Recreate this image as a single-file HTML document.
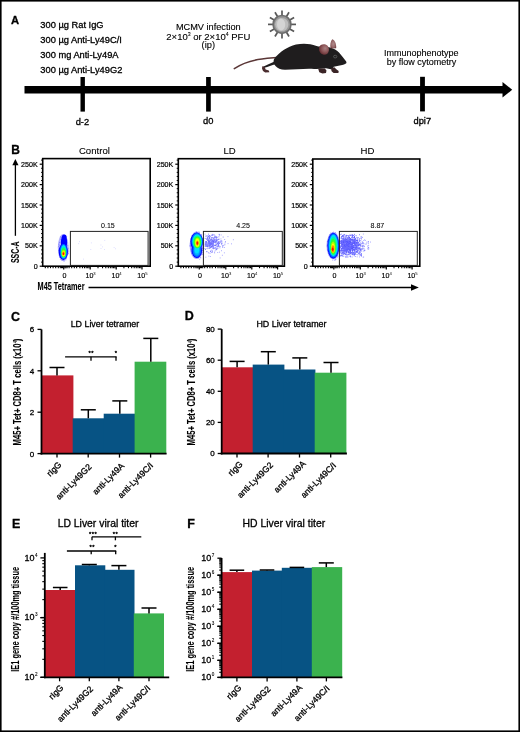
<!DOCTYPE html>
<html><head><meta charset="utf-8"><style>
html,body{margin:0;padding:0;background:#fff;}
svg{display:block;will-change:transform;}
text{font-family:"Liberation Sans", sans-serif;stroke:#000;stroke-width:0.3px;}
</style></head><body>
<svg width="520" height="732" viewBox="0 0 520 732">
<rect width="520" height="732" fill="#fff"/>
<rect x="0" y="0" width="520" height="732" fill="none" stroke="#000" stroke-width="3.2"/>
<text x="11.00" y="24.40" font-size="11.2" text-anchor="start" font-weight="bold" fill="#000" >A</text>
<text x="40.30" y="28.30" font-size="9.3" text-anchor="start" font-weight="normal" fill="#000" >300 µg Rat IgG</text>
<text x="40.30" y="43.20" font-size="9.3" text-anchor="start" font-weight="normal" fill="#000" >300 µg Anti-Ly49C/I</text>
<text x="40.30" y="58.10" font-size="9.3" text-anchor="start" font-weight="normal" fill="#000" >300 mg Anti-Ly49A</text>
<text x="40.30" y="72.90" font-size="9.3" text-anchor="start" font-weight="normal" fill="#000" >300 µg Anti-Ly49G2</text>
<text x="208.30" y="29.60" font-size="9.2" text-anchor="middle" font-weight="normal" fill="#000" style="stroke-width:0.12">MCMV infection</text>
<text x="208.30" y="39.80" font-size="9.5" text-anchor="middle" font-weight="normal" fill="#000" style="stroke-width:0.12">2×10<tspan font-size="5.2" dy="-3.6" style="stroke-width:0.1">3</tspan><tspan dy="3.6"> or 2×10</tspan><tspan font-size="5.2" dy="-3.6" style="stroke-width:0.1">4</tspan><tspan dy="3.6"> PFU</tspan></text>
<text x="208.30" y="48.30" font-size="9.3" text-anchor="middle" font-weight="normal" fill="#000" style="stroke-width:0.12">(ip)</text>
<text x="421.20" y="55.90" font-size="9.0" text-anchor="middle" font-weight="normal" fill="#000" style="stroke-width:0.12">Immunophenotype</text>
<text x="421.60" y="64.60" font-size="9.0" text-anchor="middle" font-weight="normal" fill="#000" style="stroke-width:0.12">by flow cytometry</text>
<rect x="24.50" y="86.00" width="479.00" height="7.50" fill="#000" />
<polygon points="502.5,81.9 512.2,89.75 502.5,97.6" fill="#000"/>
<rect x="80.50" y="77.00" width="4.40" height="34.60" fill="#000" />
<rect x="206.10" y="77.00" width="4.70" height="34.60" fill="#000" />
<rect x="420.10" y="76.80" width="4.80" height="34.60" fill="#000" />
<text x="82.40" y="124.50" font-size="9.3" text-anchor="middle" font-weight="normal" fill="#000" >d-2</text>
<text x="208.20" y="124.20" font-size="9.3" text-anchor="middle" font-weight="normal" fill="#000" >d0</text>
<text x="422.30" y="124.20" font-size="9.3" text-anchor="middle" font-weight="normal" fill="#000" >dpi7</text>
<line x1="290.50" y1="24.40" x2="296.00" y2="24.40" stroke="#585858" stroke-width="1.7" stroke-linecap="butt"/>
<line x1="289.36" y1="28.65" x2="294.12" y2="31.40" stroke="#585858" stroke-width="1.7" stroke-linecap="butt"/>
<line x1="286.25" y1="31.76" x2="289.00" y2="36.52" stroke="#585858" stroke-width="1.7" stroke-linecap="butt"/>
<line x1="282.00" y1="32.90" x2="282.00" y2="38.40" stroke="#585858" stroke-width="1.7" stroke-linecap="butt"/>
<line x1="277.75" y1="31.76" x2="275.00" y2="36.52" stroke="#585858" stroke-width="1.7" stroke-linecap="butt"/>
<line x1="274.64" y1="28.65" x2="269.88" y2="31.40" stroke="#585858" stroke-width="1.7" stroke-linecap="butt"/>
<line x1="273.50" y1="24.40" x2="268.00" y2="24.40" stroke="#585858" stroke-width="1.7" stroke-linecap="butt"/>
<line x1="274.64" y1="20.15" x2="269.88" y2="17.40" stroke="#585858" stroke-width="1.7" stroke-linecap="butt"/>
<line x1="277.75" y1="17.04" x2="275.00" y2="12.28" stroke="#585858" stroke-width="1.7" stroke-linecap="butt"/>
<line x1="282.00" y1="15.90" x2="282.00" y2="10.40" stroke="#585858" stroke-width="1.7" stroke-linecap="butt"/>
<line x1="286.25" y1="17.04" x2="289.00" y2="12.28" stroke="#585858" stroke-width="1.7" stroke-linecap="butt"/>
<line x1="289.36" y1="20.15" x2="294.12" y2="17.40" stroke="#585858" stroke-width="1.7" stroke-linecap="butt"/>
<defs>
<radialGradient id="earg" cx="0.62" cy="0.4" r="0.7">
<stop offset="0" stop-color="#a88282"/><stop offset="0.45" stop-color="#905a5c"/><stop offset="0.85" stop-color="#6a3236"/><stop offset="1" stop-color="#3a1c1e"/>
</radialGradient>
<radialGradient id="ear2g" cx="0.5" cy="0.5" r="0.6">
<stop offset="0" stop-color="#b08c8c"/><stop offset="0.6" stop-color="#98686a"/><stop offset="1" stop-color="#6a3a3c"/>
</radialGradient>
<filter id="vb" x="-20%" y="-20%" width="140%" height="140%"><feGaussianBlur stdDeviation="0.45"/></filter>
</defs>
<circle cx="282.0" cy="24.4" r="8.9" fill="#979797" stroke="#6c6c6c" stroke-width="1.7"/>
<g filter="url(#vb)"><circle cx="281.8" cy="24.5" r="6.6" fill="#bdbdbd"/><path d="M280.8,18.4 C284.5,19.4 285.2,22.4 285.2,24.9 C285.2,27.4 284.0,29.9 281.0,30.4 C278.0,29.4 277.0,26.4 277.0,24.4 C277.0,21.4 278.5,18.9 280.8,18.4 Z" fill="#d4d4d4"/></g>
<path d="M234.3,68.6 C242,63.5 252,60.2 262,59.0 C268,58.3 272,58.0 276.5,57.6" fill="none" stroke="#5a3636" stroke-width="1.5" stroke-linecap="round"/>
<path d="M275.2,57.6 C280,52 287,47 296,44.6 C303,43.2 310,43.6 316.5,46 L318.5,46.5 L329,47.2 C334,48.3 337,50.5 339,52.5 C341.5,55.5 344,58.5 346.2,61.6 L346.5,63 C345,64.5 342,65.3 338.5,65.8 L333.7,66.7 C333,68 332,68.8 331,69.3 L326,68.2 C322,68.6 318,69.2 314,68.9 C305,68.4 295,69.5 285,69.8 C280.5,69.6 277.5,68.3 275.5,66 C273.8,64 273.2,61.5 273.8,59.8 C274.2,58.8 274.6,58.1 275.2,57.6 Z" fill="#1f1d1e"/>
<path d="M274.5,61.5 C271,63.2 267,65 263.6,66.6 L264.3,67.8 C268,66.6 272,65.2 275.5,64.2 Z" fill="#1f1d1e"/>
<path d="M262.3,66.2 L264.6,66.4 L265.6,69.4 L268.8,70.6 L269.4,72.3 L265.2,72.4 L263.0,71.0 L262.0,68.5 Z" fill="#4a2c2e"/>
<path d="M318.2,68.8 L324.8,68.4 L326.5,70.4 L326.0,72.9 L322.5,73.4 L319.3,72.2 Z" fill="#3a2426"/>
<path d="M331.0,68.4 L334.3,67.2 L336.6,69.6 L338.7,71.0 L338.4,72.9 L333.6,72.9 L331.6,71.2 Z" fill="#3a2426"/>
<path d="M332.3,39.3 C334.8,40.2 336.4,43.5 336.2,48.2 L330.6,48.6 C330.0,45.2 330.4,41.2 332.3,39.3 Z" fill="url(#ear2g)"/>
<path d="M319.0,47.5 C319.5,45.2 322,44.0 324.5,44.2 C327.5,44.6 329.2,47.2 328.9,50.4 C328.6,53.2 326.5,55.0 323.8,54.8 C321.6,54.6 319.8,53.0 319.2,50.8 Z" fill="url(#earg)"/>
<ellipse cx="335.2" cy="56.6" rx="1.7" ry="1.35" fill="#222" stroke="#777" stroke-width="0.55"/>
<text x="11.30" y="153.60" font-size="12" text-anchor="start" font-weight="bold" fill="#000" >B</text>
<line x1="15.40" y1="164.00" x2="15.40" y2="235.80" stroke="#000" stroke-width="1.3" />
<polygon points="15.4,158.9 12.3,165.2 18.5,165.2" fill="#000"/>
<text id="ssc" transform="translate(19.0,263.1) rotate(-90) scale(0.644,1)" font-size="10.8" font-weight="bold" style="stroke-width:0.1">SSC-A</text>
<text id="m45" transform="translate(37.6,290.2) scale(0.729,1)" font-size="10" font-weight="bold" style="stroke-width:0.1">M45 Tetramer</text>
<line x1="88.50" y1="287.50" x2="412.00" y2="287.50" stroke="#000" stroke-width="1.3" />
<polygon points="411,284.3 418.8,287.5 411,290.7" fill="#000"/>
<text x="94.40" y="154.10" font-size="9.6" text-anchor="middle" font-weight="normal" fill="#000" style="stroke-width:0.08">Control</text>
<rect x="42.70" y="158.60" width="107.50" height="107.60" fill="none" stroke="#000" stroke-width="1.6"/>
<line x1="39.70" y1="266.20" x2="42.70" y2="266.20" stroke="#000" stroke-width="1.2" />
<text x="37.70" y="268.70" font-size="7.1" text-anchor="end" font-weight="normal" fill="#000" style="stroke-width:0.2">0</text>
<line x1="41.10" y1="262.12" x2="42.70" y2="262.12" stroke="#000" stroke-width="1.0" />
<line x1="41.10" y1="258.04" x2="42.70" y2="258.04" stroke="#000" stroke-width="1.0" />
<line x1="41.10" y1="253.96" x2="42.70" y2="253.96" stroke="#000" stroke-width="1.0" />
<line x1="41.10" y1="249.88" x2="42.70" y2="249.88" stroke="#000" stroke-width="1.0" />
<line x1="39.70" y1="245.80" x2="42.70" y2="245.80" stroke="#000" stroke-width="1.2" />
<text x="37.70" y="248.30" font-size="7.1" text-anchor="end" font-weight="normal" fill="#000" style="stroke-width:0.2">50K</text>
<line x1="41.10" y1="241.72" x2="42.70" y2="241.72" stroke="#000" stroke-width="1.0" />
<line x1="41.10" y1="237.64" x2="42.70" y2="237.64" stroke="#000" stroke-width="1.0" />
<line x1="41.10" y1="233.56" x2="42.70" y2="233.56" stroke="#000" stroke-width="1.0" />
<line x1="41.10" y1="229.48" x2="42.70" y2="229.48" stroke="#000" stroke-width="1.0" />
<line x1="39.70" y1="225.40" x2="42.70" y2="225.40" stroke="#000" stroke-width="1.2" />
<text x="37.70" y="227.90" font-size="7.1" text-anchor="end" font-weight="normal" fill="#000" style="stroke-width:0.2">100K</text>
<line x1="41.10" y1="221.32" x2="42.70" y2="221.32" stroke="#000" stroke-width="1.0" />
<line x1="41.10" y1="217.24" x2="42.70" y2="217.24" stroke="#000" stroke-width="1.0" />
<line x1="41.10" y1="213.16" x2="42.70" y2="213.16" stroke="#000" stroke-width="1.0" />
<line x1="41.10" y1="209.08" x2="42.70" y2="209.08" stroke="#000" stroke-width="1.0" />
<line x1="39.70" y1="205.00" x2="42.70" y2="205.00" stroke="#000" stroke-width="1.2" />
<text x="37.70" y="207.50" font-size="7.1" text-anchor="end" font-weight="normal" fill="#000" style="stroke-width:0.2">150K</text>
<line x1="41.10" y1="200.92" x2="42.70" y2="200.92" stroke="#000" stroke-width="1.0" />
<line x1="41.10" y1="196.84" x2="42.70" y2="196.84" stroke="#000" stroke-width="1.0" />
<line x1="41.10" y1="192.76" x2="42.70" y2="192.76" stroke="#000" stroke-width="1.0" />
<line x1="41.10" y1="188.68" x2="42.70" y2="188.68" stroke="#000" stroke-width="1.0" />
<line x1="39.70" y1="184.60" x2="42.70" y2="184.60" stroke="#000" stroke-width="1.2" />
<text x="37.70" y="187.10" font-size="7.1" text-anchor="end" font-weight="normal" fill="#000" style="stroke-width:0.2">200K</text>
<line x1="41.10" y1="180.52" x2="42.70" y2="180.52" stroke="#000" stroke-width="1.0" />
<line x1="41.10" y1="176.44" x2="42.70" y2="176.44" stroke="#000" stroke-width="1.0" />
<line x1="41.10" y1="172.36" x2="42.70" y2="172.36" stroke="#000" stroke-width="1.0" />
<line x1="41.10" y1="168.28" x2="42.70" y2="168.28" stroke="#000" stroke-width="1.0" />
<line x1="39.70" y1="164.20" x2="42.70" y2="164.20" stroke="#000" stroke-width="1.2" />
<text x="37.70" y="166.70" font-size="7.1" text-anchor="end" font-weight="normal" fill="#000" style="stroke-width:0.2">250K</text>
<line x1="41.10" y1="160.12" x2="42.70" y2="160.12" stroke="#000" stroke-width="1.0" />
<line x1="63.70" y1="266.20" x2="63.70" y2="269.40" stroke="#000" stroke-width="1.2" />
<text x="64.50" y="277.80" font-size="7.1" text-anchor="middle" font-weight="normal" fill="#000" style="stroke-width:0.15">0</text>
<line x1="90.20" y1="266.20" x2="90.20" y2="269.40" stroke="#000" stroke-width="1.2" />
<text x="90.60" y="277.80" font-size="7.1" text-anchor="middle" font-weight="normal" fill="#000" style="stroke-width:0.15">10<tspan font-size="4.2" dy="-2.6" style="stroke-width:0">3</tspan></text>
<line x1="116.20" y1="266.20" x2="116.20" y2="269.40" stroke="#000" stroke-width="1.2" />
<text x="116.60" y="277.80" font-size="7.1" text-anchor="middle" font-weight="normal" fill="#000" style="stroke-width:0.15">10<tspan font-size="4.2" dy="-2.6" style="stroke-width:0">4</tspan></text>
<line x1="142.00" y1="266.20" x2="142.00" y2="269.40" stroke="#000" stroke-width="1.2" />
<text x="142.40" y="277.80" font-size="7.1" text-anchor="middle" font-weight="normal" fill="#000" style="stroke-width:0.15">10<tspan font-size="4.2" dy="-2.6" style="stroke-width:0">5</tspan></text>
<line x1="45.30" y1="266.20" x2="45.30" y2="268.20" stroke="#000" stroke-width="1.1" />
<line x1="47.90" y1="266.20" x2="47.90" y2="268.20" stroke="#000" stroke-width="1.1" />
<line x1="50.50" y1="266.20" x2="50.50" y2="268.20" stroke="#000" stroke-width="1.1" />
<line x1="53.10" y1="266.20" x2="53.10" y2="268.20" stroke="#000" stroke-width="1.1" />
<line x1="55.70" y1="266.20" x2="55.70" y2="268.20" stroke="#000" stroke-width="1.1" />
<line x1="58.30" y1="266.20" x2="58.30" y2="268.20" stroke="#000" stroke-width="1.1" />
<line x1="60.30" y1="266.20" x2="60.30" y2="268.20" stroke="#000" stroke-width="1.1" />
<line x1="61.50" y1="266.20" x2="61.50" y2="268.20" stroke="#000" stroke-width="1.1" />
<line x1="62.50" y1="266.20" x2="62.50" y2="268.20" stroke="#000" stroke-width="1.1" />
<line x1="64.90" y1="266.20" x2="64.90" y2="268.20" stroke="#000" stroke-width="1.1" />
<line x1="65.90" y1="266.20" x2="65.90" y2="268.20" stroke="#000" stroke-width="1.1" />
<line x1="67.10" y1="266.20" x2="67.10" y2="268.20" stroke="#000" stroke-width="1.1" />
<line x1="69.10" y1="266.20" x2="69.10" y2="268.20" stroke="#000" stroke-width="1.1" />
<line x1="71.70" y1="266.20" x2="71.70" y2="268.20" stroke="#000" stroke-width="1.1" />
<line x1="74.30" y1="266.20" x2="74.30" y2="268.20" stroke="#000" stroke-width="1.1" />
<line x1="98.00" y1="266.20" x2="98.00" y2="268.20" stroke="#000" stroke-width="1.1" />
<line x1="102.56" y1="266.20" x2="102.56" y2="268.20" stroke="#000" stroke-width="1.1" />
<line x1="105.79" y1="266.20" x2="105.79" y2="268.20" stroke="#000" stroke-width="1.1" />
<line x1="108.30" y1="266.20" x2="108.30" y2="268.20" stroke="#000" stroke-width="1.1" />
<line x1="110.35" y1="266.20" x2="110.35" y2="268.20" stroke="#000" stroke-width="1.1" />
<line x1="112.09" y1="266.20" x2="112.09" y2="268.20" stroke="#000" stroke-width="1.1" />
<line x1="113.59" y1="266.20" x2="113.59" y2="268.20" stroke="#000" stroke-width="1.1" />
<line x1="114.91" y1="266.20" x2="114.91" y2="268.20" stroke="#000" stroke-width="1.1" />
<line x1="123.90" y1="266.20" x2="123.90" y2="268.20" stroke="#000" stroke-width="1.1" />
<line x1="128.46" y1="266.20" x2="128.46" y2="268.20" stroke="#000" stroke-width="1.1" />
<line x1="131.69" y1="266.20" x2="131.69" y2="268.20" stroke="#000" stroke-width="1.1" />
<line x1="134.20" y1="266.20" x2="134.20" y2="268.20" stroke="#000" stroke-width="1.1" />
<line x1="136.25" y1="266.20" x2="136.25" y2="268.20" stroke="#000" stroke-width="1.1" />
<line x1="137.99" y1="266.20" x2="137.99" y2="268.20" stroke="#000" stroke-width="1.1" />
<line x1="139.49" y1="266.20" x2="139.49" y2="268.20" stroke="#000" stroke-width="1.1" />
<line x1="140.81" y1="266.20" x2="140.81" y2="268.20" stroke="#000" stroke-width="1.1" />
<line x1="76.66" y1="266.20" x2="76.66" y2="268.20" stroke="#000" stroke-width="1.1" />
<line x1="79.89" y1="266.20" x2="79.89" y2="268.20" stroke="#000" stroke-width="1.1" />
<line x1="82.40" y1="266.20" x2="82.40" y2="268.20" stroke="#000" stroke-width="1.1" />
<line x1="84.45" y1="266.20" x2="84.45" y2="268.20" stroke="#000" stroke-width="1.1" />
<line x1="86.19" y1="266.20" x2="86.19" y2="268.20" stroke="#000" stroke-width="1.1" />
<line x1="87.69" y1="266.20" x2="87.69" y2="268.20" stroke="#000" stroke-width="1.1" />
<line x1="89.01" y1="266.20" x2="89.01" y2="268.20" stroke="#000" stroke-width="1.1" />
<text x="107.90" y="228.30" font-size="7.1" text-anchor="middle" font-weight="normal" fill="#000" style="stroke-width:0.05">0.15</text>
<text x="229.60" y="154.10" font-size="9.6" text-anchor="middle" font-weight="normal" fill="#000" style="stroke-width:0.08">LD</text>
<rect x="178.30" y="158.70" width="106.10" height="107.50" fill="none" stroke="#000" stroke-width="1.6"/>
<line x1="175.30" y1="266.20" x2="178.30" y2="266.20" stroke="#000" stroke-width="1.2" />
<text x="173.30" y="268.70" font-size="7.1" text-anchor="end" font-weight="normal" fill="#000" style="stroke-width:0.2">0</text>
<line x1="176.70" y1="262.12" x2="178.30" y2="262.12" stroke="#000" stroke-width="1.0" />
<line x1="176.70" y1="258.04" x2="178.30" y2="258.04" stroke="#000" stroke-width="1.0" />
<line x1="176.70" y1="253.96" x2="178.30" y2="253.96" stroke="#000" stroke-width="1.0" />
<line x1="176.70" y1="249.88" x2="178.30" y2="249.88" stroke="#000" stroke-width="1.0" />
<line x1="175.30" y1="245.80" x2="178.30" y2="245.80" stroke="#000" stroke-width="1.2" />
<text x="173.30" y="248.30" font-size="7.1" text-anchor="end" font-weight="normal" fill="#000" style="stroke-width:0.2">50K</text>
<line x1="176.70" y1="241.72" x2="178.30" y2="241.72" stroke="#000" stroke-width="1.0" />
<line x1="176.70" y1="237.64" x2="178.30" y2="237.64" stroke="#000" stroke-width="1.0" />
<line x1="176.70" y1="233.56" x2="178.30" y2="233.56" stroke="#000" stroke-width="1.0" />
<line x1="176.70" y1="229.48" x2="178.30" y2="229.48" stroke="#000" stroke-width="1.0" />
<line x1="175.30" y1="225.40" x2="178.30" y2="225.40" stroke="#000" stroke-width="1.2" />
<text x="173.30" y="227.90" font-size="7.1" text-anchor="end" font-weight="normal" fill="#000" style="stroke-width:0.2">100K</text>
<line x1="176.70" y1="221.32" x2="178.30" y2="221.32" stroke="#000" stroke-width="1.0" />
<line x1="176.70" y1="217.24" x2="178.30" y2="217.24" stroke="#000" stroke-width="1.0" />
<line x1="176.70" y1="213.16" x2="178.30" y2="213.16" stroke="#000" stroke-width="1.0" />
<line x1="176.70" y1="209.08" x2="178.30" y2="209.08" stroke="#000" stroke-width="1.0" />
<line x1="175.30" y1="205.00" x2="178.30" y2="205.00" stroke="#000" stroke-width="1.2" />
<text x="173.30" y="207.50" font-size="7.1" text-anchor="end" font-weight="normal" fill="#000" style="stroke-width:0.2">150K</text>
<line x1="176.70" y1="200.92" x2="178.30" y2="200.92" stroke="#000" stroke-width="1.0" />
<line x1="176.70" y1="196.84" x2="178.30" y2="196.84" stroke="#000" stroke-width="1.0" />
<line x1="176.70" y1="192.76" x2="178.30" y2="192.76" stroke="#000" stroke-width="1.0" />
<line x1="176.70" y1="188.68" x2="178.30" y2="188.68" stroke="#000" stroke-width="1.0" />
<line x1="175.30" y1="184.60" x2="178.30" y2="184.60" stroke="#000" stroke-width="1.2" />
<text x="173.30" y="187.10" font-size="7.1" text-anchor="end" font-weight="normal" fill="#000" style="stroke-width:0.2">200K</text>
<line x1="176.70" y1="180.52" x2="178.30" y2="180.52" stroke="#000" stroke-width="1.0" />
<line x1="176.70" y1="176.44" x2="178.30" y2="176.44" stroke="#000" stroke-width="1.0" />
<line x1="176.70" y1="172.36" x2="178.30" y2="172.36" stroke="#000" stroke-width="1.0" />
<line x1="176.70" y1="168.28" x2="178.30" y2="168.28" stroke="#000" stroke-width="1.0" />
<line x1="175.30" y1="164.20" x2="178.30" y2="164.20" stroke="#000" stroke-width="1.2" />
<text x="173.30" y="166.70" font-size="7.1" text-anchor="end" font-weight="normal" fill="#000" style="stroke-width:0.2">250K</text>
<line x1="176.70" y1="160.12" x2="178.30" y2="160.12" stroke="#000" stroke-width="1.0" />
<line x1="199.30" y1="266.20" x2="199.30" y2="269.40" stroke="#000" stroke-width="1.2" />
<text x="200.10" y="277.80" font-size="7.1" text-anchor="middle" font-weight="normal" fill="#000" style="stroke-width:0.15">0</text>
<line x1="225.80" y1="266.20" x2="225.80" y2="269.40" stroke="#000" stroke-width="1.2" />
<text x="226.20" y="277.80" font-size="7.1" text-anchor="middle" font-weight="normal" fill="#000" style="stroke-width:0.15">10<tspan font-size="4.2" dy="-2.6" style="stroke-width:0">3</tspan></text>
<line x1="251.80" y1="266.20" x2="251.80" y2="269.40" stroke="#000" stroke-width="1.2" />
<text x="252.20" y="277.80" font-size="7.1" text-anchor="middle" font-weight="normal" fill="#000" style="stroke-width:0.15">10<tspan font-size="4.2" dy="-2.6" style="stroke-width:0">4</tspan></text>
<line x1="277.60" y1="266.20" x2="277.60" y2="269.40" stroke="#000" stroke-width="1.2" />
<text x="278.00" y="277.80" font-size="7.1" text-anchor="middle" font-weight="normal" fill="#000" style="stroke-width:0.15">10<tspan font-size="4.2" dy="-2.6" style="stroke-width:0">5</tspan></text>
<line x1="180.90" y1="266.20" x2="180.90" y2="268.20" stroke="#000" stroke-width="1.1" />
<line x1="183.50" y1="266.20" x2="183.50" y2="268.20" stroke="#000" stroke-width="1.1" />
<line x1="186.10" y1="266.20" x2="186.10" y2="268.20" stroke="#000" stroke-width="1.1" />
<line x1="188.70" y1="266.20" x2="188.70" y2="268.20" stroke="#000" stroke-width="1.1" />
<line x1="191.30" y1="266.20" x2="191.30" y2="268.20" stroke="#000" stroke-width="1.1" />
<line x1="193.90" y1="266.20" x2="193.90" y2="268.20" stroke="#000" stroke-width="1.1" />
<line x1="195.90" y1="266.20" x2="195.90" y2="268.20" stroke="#000" stroke-width="1.1" />
<line x1="197.10" y1="266.20" x2="197.10" y2="268.20" stroke="#000" stroke-width="1.1" />
<line x1="198.10" y1="266.20" x2="198.10" y2="268.20" stroke="#000" stroke-width="1.1" />
<line x1="200.50" y1="266.20" x2="200.50" y2="268.20" stroke="#000" stroke-width="1.1" />
<line x1="201.50" y1="266.20" x2="201.50" y2="268.20" stroke="#000" stroke-width="1.1" />
<line x1="202.70" y1="266.20" x2="202.70" y2="268.20" stroke="#000" stroke-width="1.1" />
<line x1="204.70" y1="266.20" x2="204.70" y2="268.20" stroke="#000" stroke-width="1.1" />
<line x1="207.30" y1="266.20" x2="207.30" y2="268.20" stroke="#000" stroke-width="1.1" />
<line x1="209.90" y1="266.20" x2="209.90" y2="268.20" stroke="#000" stroke-width="1.1" />
<line x1="233.60" y1="266.20" x2="233.60" y2="268.20" stroke="#000" stroke-width="1.1" />
<line x1="238.16" y1="266.20" x2="238.16" y2="268.20" stroke="#000" stroke-width="1.1" />
<line x1="241.39" y1="266.20" x2="241.39" y2="268.20" stroke="#000" stroke-width="1.1" />
<line x1="243.90" y1="266.20" x2="243.90" y2="268.20" stroke="#000" stroke-width="1.1" />
<line x1="245.95" y1="266.20" x2="245.95" y2="268.20" stroke="#000" stroke-width="1.1" />
<line x1="247.69" y1="266.20" x2="247.69" y2="268.20" stroke="#000" stroke-width="1.1" />
<line x1="249.19" y1="266.20" x2="249.19" y2="268.20" stroke="#000" stroke-width="1.1" />
<line x1="250.51" y1="266.20" x2="250.51" y2="268.20" stroke="#000" stroke-width="1.1" />
<line x1="259.50" y1="266.20" x2="259.50" y2="268.20" stroke="#000" stroke-width="1.1" />
<line x1="264.06" y1="266.20" x2="264.06" y2="268.20" stroke="#000" stroke-width="1.1" />
<line x1="267.29" y1="266.20" x2="267.29" y2="268.20" stroke="#000" stroke-width="1.1" />
<line x1="269.80" y1="266.20" x2="269.80" y2="268.20" stroke="#000" stroke-width="1.1" />
<line x1="271.85" y1="266.20" x2="271.85" y2="268.20" stroke="#000" stroke-width="1.1" />
<line x1="273.59" y1="266.20" x2="273.59" y2="268.20" stroke="#000" stroke-width="1.1" />
<line x1="275.09" y1="266.20" x2="275.09" y2="268.20" stroke="#000" stroke-width="1.1" />
<line x1="276.41" y1="266.20" x2="276.41" y2="268.20" stroke="#000" stroke-width="1.1" />
<line x1="212.26" y1="266.20" x2="212.26" y2="268.20" stroke="#000" stroke-width="1.1" />
<line x1="215.49" y1="266.20" x2="215.49" y2="268.20" stroke="#000" stroke-width="1.1" />
<line x1="218.00" y1="266.20" x2="218.00" y2="268.20" stroke="#000" stroke-width="1.1" />
<line x1="220.05" y1="266.20" x2="220.05" y2="268.20" stroke="#000" stroke-width="1.1" />
<line x1="221.79" y1="266.20" x2="221.79" y2="268.20" stroke="#000" stroke-width="1.1" />
<line x1="223.29" y1="266.20" x2="223.29" y2="268.20" stroke="#000" stroke-width="1.1" />
<line x1="224.61" y1="266.20" x2="224.61" y2="268.20" stroke="#000" stroke-width="1.1" />
<text x="243.10" y="228.30" font-size="7.1" text-anchor="middle" font-weight="normal" fill="#000" style="stroke-width:0.05">4.25</text>
<text x="367.50" y="154.10" font-size="9.6" text-anchor="middle" font-weight="normal" fill="#000" style="stroke-width:0.08">HD</text>
<rect x="312.80" y="159.00" width="107.00" height="107.20" fill="none" stroke="#000" stroke-width="1.6"/>
<line x1="309.80" y1="266.20" x2="312.80" y2="266.20" stroke="#000" stroke-width="1.2" />
<text x="307.80" y="268.70" font-size="7.1" text-anchor="end" font-weight="normal" fill="#000" style="stroke-width:0.2">0</text>
<line x1="311.20" y1="262.12" x2="312.80" y2="262.12" stroke="#000" stroke-width="1.0" />
<line x1="311.20" y1="258.04" x2="312.80" y2="258.04" stroke="#000" stroke-width="1.0" />
<line x1="311.20" y1="253.96" x2="312.80" y2="253.96" stroke="#000" stroke-width="1.0" />
<line x1="311.20" y1="249.88" x2="312.80" y2="249.88" stroke="#000" stroke-width="1.0" />
<line x1="309.80" y1="245.80" x2="312.80" y2="245.80" stroke="#000" stroke-width="1.2" />
<text x="307.80" y="248.30" font-size="7.1" text-anchor="end" font-weight="normal" fill="#000" style="stroke-width:0.2">50K</text>
<line x1="311.20" y1="241.72" x2="312.80" y2="241.72" stroke="#000" stroke-width="1.0" />
<line x1="311.20" y1="237.64" x2="312.80" y2="237.64" stroke="#000" stroke-width="1.0" />
<line x1="311.20" y1="233.56" x2="312.80" y2="233.56" stroke="#000" stroke-width="1.0" />
<line x1="311.20" y1="229.48" x2="312.80" y2="229.48" stroke="#000" stroke-width="1.0" />
<line x1="309.80" y1="225.40" x2="312.80" y2="225.40" stroke="#000" stroke-width="1.2" />
<text x="307.80" y="227.90" font-size="7.1" text-anchor="end" font-weight="normal" fill="#000" style="stroke-width:0.2">100K</text>
<line x1="311.20" y1="221.32" x2="312.80" y2="221.32" stroke="#000" stroke-width="1.0" />
<line x1="311.20" y1="217.24" x2="312.80" y2="217.24" stroke="#000" stroke-width="1.0" />
<line x1="311.20" y1="213.16" x2="312.80" y2="213.16" stroke="#000" stroke-width="1.0" />
<line x1="311.20" y1="209.08" x2="312.80" y2="209.08" stroke="#000" stroke-width="1.0" />
<line x1="309.80" y1="205.00" x2="312.80" y2="205.00" stroke="#000" stroke-width="1.2" />
<text x="307.80" y="207.50" font-size="7.1" text-anchor="end" font-weight="normal" fill="#000" style="stroke-width:0.2">150K</text>
<line x1="311.20" y1="200.92" x2="312.80" y2="200.92" stroke="#000" stroke-width="1.0" />
<line x1="311.20" y1="196.84" x2="312.80" y2="196.84" stroke="#000" stroke-width="1.0" />
<line x1="311.20" y1="192.76" x2="312.80" y2="192.76" stroke="#000" stroke-width="1.0" />
<line x1="311.20" y1="188.68" x2="312.80" y2="188.68" stroke="#000" stroke-width="1.0" />
<line x1="309.80" y1="184.60" x2="312.80" y2="184.60" stroke="#000" stroke-width="1.2" />
<text x="307.80" y="187.10" font-size="7.1" text-anchor="end" font-weight="normal" fill="#000" style="stroke-width:0.2">200K</text>
<line x1="311.20" y1="180.52" x2="312.80" y2="180.52" stroke="#000" stroke-width="1.0" />
<line x1="311.20" y1="176.44" x2="312.80" y2="176.44" stroke="#000" stroke-width="1.0" />
<line x1="311.20" y1="172.36" x2="312.80" y2="172.36" stroke="#000" stroke-width="1.0" />
<line x1="311.20" y1="168.28" x2="312.80" y2="168.28" stroke="#000" stroke-width="1.0" />
<line x1="309.80" y1="164.20" x2="312.80" y2="164.20" stroke="#000" stroke-width="1.2" />
<text x="307.80" y="166.70" font-size="7.1" text-anchor="end" font-weight="normal" fill="#000" style="stroke-width:0.2">250K</text>
<line x1="311.20" y1="160.12" x2="312.80" y2="160.12" stroke="#000" stroke-width="1.0" />
<line x1="333.80" y1="266.20" x2="333.80" y2="269.40" stroke="#000" stroke-width="1.2" />
<text x="334.60" y="277.80" font-size="7.1" text-anchor="middle" font-weight="normal" fill="#000" style="stroke-width:0.15">0</text>
<line x1="360.30" y1="266.20" x2="360.30" y2="269.40" stroke="#000" stroke-width="1.2" />
<text x="360.70" y="277.80" font-size="7.1" text-anchor="middle" font-weight="normal" fill="#000" style="stroke-width:0.15">10<tspan font-size="4.2" dy="-2.6" style="stroke-width:0">3</tspan></text>
<line x1="386.30" y1="266.20" x2="386.30" y2="269.40" stroke="#000" stroke-width="1.2" />
<text x="386.70" y="277.80" font-size="7.1" text-anchor="middle" font-weight="normal" fill="#000" style="stroke-width:0.15">10<tspan font-size="4.2" dy="-2.6" style="stroke-width:0">4</tspan></text>
<line x1="412.10" y1="266.20" x2="412.10" y2="269.40" stroke="#000" stroke-width="1.2" />
<text x="412.50" y="277.80" font-size="7.1" text-anchor="middle" font-weight="normal" fill="#000" style="stroke-width:0.15">10<tspan font-size="4.2" dy="-2.6" style="stroke-width:0">5</tspan></text>
<line x1="315.40" y1="266.20" x2="315.40" y2="268.20" stroke="#000" stroke-width="1.1" />
<line x1="318.00" y1="266.20" x2="318.00" y2="268.20" stroke="#000" stroke-width="1.1" />
<line x1="320.60" y1="266.20" x2="320.60" y2="268.20" stroke="#000" stroke-width="1.1" />
<line x1="323.20" y1="266.20" x2="323.20" y2="268.20" stroke="#000" stroke-width="1.1" />
<line x1="325.80" y1="266.20" x2="325.80" y2="268.20" stroke="#000" stroke-width="1.1" />
<line x1="328.40" y1="266.20" x2="328.40" y2="268.20" stroke="#000" stroke-width="1.1" />
<line x1="330.40" y1="266.20" x2="330.40" y2="268.20" stroke="#000" stroke-width="1.1" />
<line x1="331.60" y1="266.20" x2="331.60" y2="268.20" stroke="#000" stroke-width="1.1" />
<line x1="332.60" y1="266.20" x2="332.60" y2="268.20" stroke="#000" stroke-width="1.1" />
<line x1="335.00" y1="266.20" x2="335.00" y2="268.20" stroke="#000" stroke-width="1.1" />
<line x1="336.00" y1="266.20" x2="336.00" y2="268.20" stroke="#000" stroke-width="1.1" />
<line x1="337.20" y1="266.20" x2="337.20" y2="268.20" stroke="#000" stroke-width="1.1" />
<line x1="339.20" y1="266.20" x2="339.20" y2="268.20" stroke="#000" stroke-width="1.1" />
<line x1="341.80" y1="266.20" x2="341.80" y2="268.20" stroke="#000" stroke-width="1.1" />
<line x1="344.40" y1="266.20" x2="344.40" y2="268.20" stroke="#000" stroke-width="1.1" />
<line x1="368.10" y1="266.20" x2="368.10" y2="268.20" stroke="#000" stroke-width="1.1" />
<line x1="372.66" y1="266.20" x2="372.66" y2="268.20" stroke="#000" stroke-width="1.1" />
<line x1="375.89" y1="266.20" x2="375.89" y2="268.20" stroke="#000" stroke-width="1.1" />
<line x1="378.40" y1="266.20" x2="378.40" y2="268.20" stroke="#000" stroke-width="1.1" />
<line x1="380.45" y1="266.20" x2="380.45" y2="268.20" stroke="#000" stroke-width="1.1" />
<line x1="382.19" y1="266.20" x2="382.19" y2="268.20" stroke="#000" stroke-width="1.1" />
<line x1="383.69" y1="266.20" x2="383.69" y2="268.20" stroke="#000" stroke-width="1.1" />
<line x1="385.01" y1="266.20" x2="385.01" y2="268.20" stroke="#000" stroke-width="1.1" />
<line x1="394.00" y1="266.20" x2="394.00" y2="268.20" stroke="#000" stroke-width="1.1" />
<line x1="398.56" y1="266.20" x2="398.56" y2="268.20" stroke="#000" stroke-width="1.1" />
<line x1="401.79" y1="266.20" x2="401.79" y2="268.20" stroke="#000" stroke-width="1.1" />
<line x1="404.30" y1="266.20" x2="404.30" y2="268.20" stroke="#000" stroke-width="1.1" />
<line x1="406.35" y1="266.20" x2="406.35" y2="268.20" stroke="#000" stroke-width="1.1" />
<line x1="408.09" y1="266.20" x2="408.09" y2="268.20" stroke="#000" stroke-width="1.1" />
<line x1="409.59" y1="266.20" x2="409.59" y2="268.20" stroke="#000" stroke-width="1.1" />
<line x1="410.91" y1="266.20" x2="410.91" y2="268.20" stroke="#000" stroke-width="1.1" />
<line x1="346.76" y1="266.20" x2="346.76" y2="268.20" stroke="#000" stroke-width="1.1" />
<line x1="349.99" y1="266.20" x2="349.99" y2="268.20" stroke="#000" stroke-width="1.1" />
<line x1="352.50" y1="266.20" x2="352.50" y2="268.20" stroke="#000" stroke-width="1.1" />
<line x1="354.55" y1="266.20" x2="354.55" y2="268.20" stroke="#000" stroke-width="1.1" />
<line x1="356.29" y1="266.20" x2="356.29" y2="268.20" stroke="#000" stroke-width="1.1" />
<line x1="357.79" y1="266.20" x2="357.79" y2="268.20" stroke="#000" stroke-width="1.1" />
<line x1="359.11" y1="266.20" x2="359.11" y2="268.20" stroke="#000" stroke-width="1.1" />
<text x="377.40" y="228.30" font-size="7.1" text-anchor="middle" font-weight="normal" fill="#000" style="stroke-width:0.05">8.87</text>
<defs><filter id="bl" x="-50%" y="-50%" width="200%" height="200%"><feGaussianBlur stdDeviation="0.65"/></filter>
<filter id="bl2" x="-50%" y="-50%" width="200%" height="200%"><feGaussianBlur stdDeviation="0.9"/></filter></defs>
<g fill="#a0a0ff" opacity="0.5"><rect x="90.4" y="249.1" width="0.8" height="0.8"/><rect x="90.9" y="242.5" width="0.8" height="0.8"/><rect x="78.3" y="243.3" width="0.8" height="0.8"/><rect x="115.0" y="248.4" width="0.8" height="0.8"/><rect x="113.7" y="247.0" width="0.8" height="0.8"/><rect x="102.1" y="246.5" width="0.8" height="0.8"/><rect x="104.1" y="249.0" width="0.8" height="0.8"/><rect x="79.0" y="241.3" width="0.8" height="0.8"/><rect x="100.5" y="244.6" width="0.8" height="0.8"/><rect x="104.4" y="239.9" width="0.8" height="0.8"/><rect x="100.6" y="248.2" width="0.8" height="0.8"/><rect x="83.1" y="258.7" width="0.8" height="0.8"/></g>
<g fill="#4a4aff" opacity="0.5"><rect x="65.4" y="259.6" width="0.9" height="0.9"/><rect x="60.3" y="238.8" width="0.9" height="0.9"/><rect x="59.3" y="244.8" width="0.9" height="0.9"/><rect x="67.4" y="252.2" width="0.9" height="0.9"/><rect x="61.3" y="236.9" width="0.9" height="0.9"/><rect x="61.4" y="259.8" width="0.9" height="0.9"/><rect x="59.0" y="251.4" width="0.9" height="0.9"/><rect x="64.7" y="235.3" width="0.9" height="0.9"/><rect x="63.5" y="260.8" width="0.9" height="0.9"/><rect x="58.0" y="245.8" width="0.9" height="0.9"/><rect x="62.7" y="236.4" width="0.9" height="0.9"/><rect x="67.5" y="246.6" width="0.9" height="0.9"/><rect x="58.8" y="254.6" width="0.9" height="0.9"/><rect x="66.1" y="258.2" width="0.9" height="0.9"/><rect x="68.2" y="251.2" width="0.9" height="0.9"/><rect x="63.7" y="235.3" width="0.9" height="0.9"/><rect x="66.5" y="239.7" width="0.9" height="0.9"/><rect x="61.6" y="235.9" width="0.9" height="0.9"/><rect x="59.1" y="242.1" width="0.9" height="0.9"/><rect x="66.2" y="236.0" width="0.9" height="0.9"/><rect x="58.3" y="250.1" width="0.9" height="0.9"/><rect x="68.0" y="252.9" width="0.9" height="0.9"/><rect x="60.0" y="236.5" width="0.9" height="0.9"/><rect x="65.3" y="237.5" width="0.9" height="0.9"/><rect x="59.5" y="256.6" width="0.9" height="0.9"/><rect x="68.0" y="249.7" width="0.9" height="0.9"/><rect x="65.4" y="257.6" width="0.9" height="0.9"/><rect x="68.1" y="252.9" width="0.9" height="0.9"/><rect x="66.4" y="256.4" width="0.9" height="0.9"/><rect x="59.2" y="256.8" width="0.9" height="0.9"/><rect x="67.4" y="254.0" width="0.9" height="0.9"/><rect x="58.2" y="243.7" width="0.9" height="0.9"/><rect x="65.5" y="235.4" width="0.9" height="0.9"/><rect x="62.5" y="260.0" width="0.9" height="0.9"/><rect x="59.9" y="258.8" width="0.9" height="0.9"/><rect x="67.4" y="245.1" width="0.9" height="0.9"/><rect x="65.3" y="258.3" width="0.9" height="0.9"/><rect x="63.8" y="260.4" width="0.9" height="0.9"/><rect x="59.5" y="241.8" width="0.9" height="0.9"/><rect x="68.0" y="248.3" width="0.9" height="0.9"/></g>
<g filter="url(#bl)"><ellipse cx="63.20" cy="247.50" rx="5.40" ry="13.40" fill="#5050ff" opacity="0.45"/><ellipse cx="63.30" cy="251.80" rx="4.60" ry="8.20" fill="#0000ff" opacity="1"/><ellipse cx="64.00" cy="242.50" rx="3.10" ry="7.20" fill="#0000ff" opacity="1"/><ellipse cx="64.20" cy="238.00" rx="2.40" ry="3.40" fill="#0000ff" opacity="1"/><ellipse cx="63.50" cy="251.60" rx="3.70" ry="7.50" fill="#0070ff" opacity="1"/><ellipse cx="63.60" cy="251.50" rx="2.70" ry="6.60" fill="#00e0ff" opacity="1"/><ellipse cx="63.60" cy="252.20" rx="2.45" ry="5.50" fill="#00ffa0" opacity="1"/><ellipse cx="63.60" cy="252.75" rx="2.20" ry="4.50" fill="#30ff30" opacity="1"/><ellipse cx="63.60" cy="253.30" rx="1.85" ry="3.40" fill="#a8ff00" opacity="1"/><ellipse cx="63.65" cy="253.65" rx="1.55" ry="2.60" fill="#ffff00" opacity="1"/><ellipse cx="63.50" cy="253.60" rx="1.20" ry="2.00" fill="#ff9000" opacity="1"/><ellipse cx="63.40" cy="253.80" rx="0.80" ry="1.20" fill="#ff0a00" opacity="1"/></g>
<g fill="#0000ff" opacity="0.55"><rect x="204.6" y="245.6" width="0.9" height="0.9"/><rect x="216.3" y="239.6" width="0.9" height="0.9"/><rect x="208.3" y="240.2" width="0.9" height="0.9"/><rect x="216.0" y="237.1" width="0.9" height="0.9"/><rect x="215.3" y="236.0" width="0.9" height="0.9"/><rect x="205.1" y="244.2" width="0.9" height="0.9"/><rect x="214.6" y="245.2" width="0.9" height="0.9"/><rect x="210.7" y="242.1" width="0.9" height="0.9"/><rect x="209.8" y="244.0" width="0.9" height="0.9"/><rect x="208.1" y="242.7" width="0.9" height="0.9"/><rect x="211.9" y="241.5" width="0.9" height="0.9"/><rect x="212.8" y="243.9" width="0.9" height="0.9"/><rect x="219.1" y="242.9" width="0.9" height="0.9"/><rect x="206.9" y="239.9" width="0.9" height="0.9"/><rect x="208.9" y="245.5" width="0.9" height="0.9"/><rect x="207.3" y="243.2" width="0.9" height="0.9"/><rect x="211.0" y="242.5" width="0.9" height="0.9"/><rect x="206.8" y="244.3" width="0.9" height="0.9"/><rect x="210.4" y="239.3" width="0.9" height="0.9"/><rect x="221.2" y="243.0" width="0.9" height="0.9"/><rect x="206.2" y="241.1" width="0.9" height="0.9"/><rect x="207.9" y="241.2" width="0.9" height="0.9"/><rect x="214.0" y="236.5" width="0.9" height="0.9"/><rect x="208.7" y="245.6" width="0.9" height="0.9"/><rect x="213.3" y="247.9" width="0.9" height="0.9"/><rect x="207.3" y="244.2" width="0.9" height="0.9"/><rect x="214.4" y="235.3" width="0.9" height="0.9"/><rect x="212.4" y="235.1" width="0.9" height="0.9"/><rect x="209.9" y="246.6" width="0.9" height="0.9"/><rect x="208.3" y="242.3" width="0.9" height="0.9"/><rect x="213.0" y="242.1" width="0.9" height="0.9"/><rect x="208.6" y="248.1" width="0.9" height="0.9"/><rect x="214.2" y="240.2" width="0.9" height="0.9"/><rect x="222.7" y="236.6" width="0.9" height="0.9"/><rect x="213.6" y="240.4" width="0.9" height="0.9"/><rect x="209.7" y="244.5" width="0.9" height="0.9"/><rect x="210.1" y="244.2" width="0.9" height="0.9"/><rect x="212.1" y="237.4" width="0.9" height="0.9"/><rect x="215.3" y="244.7" width="0.9" height="0.9"/><rect x="216.4" y="237.5" width="0.9" height="0.9"/><rect x="209.0" y="236.6" width="0.9" height="0.9"/><rect x="212.8" y="248.3" width="0.9" height="0.9"/><rect x="204.5" y="248.2" width="0.9" height="0.9"/><rect x="213.9" y="240.7" width="0.9" height="0.9"/><rect x="208.5" y="238.9" width="0.9" height="0.9"/><rect x="211.0" y="243.3" width="0.9" height="0.9"/><rect x="216.5" y="237.1" width="0.9" height="0.9"/><rect x="214.7" y="247.9" width="0.9" height="0.9"/><rect x="216.3" y="240.7" width="0.9" height="0.9"/><rect x="205.3" y="245.9" width="0.9" height="0.9"/><rect x="209.6" y="242.0" width="0.9" height="0.9"/><rect x="216.1" y="240.4" width="0.9" height="0.9"/><rect x="210.6" y="238.9" width="0.9" height="0.9"/><rect x="209.0" y="245.1" width="0.9" height="0.9"/><rect x="209.4" y="247.2" width="0.9" height="0.9"/><rect x="208.7" y="246.0" width="0.9" height="0.9"/><rect x="216.5" y="248.4" width="0.9" height="0.9"/><rect x="205.6" y="245.3" width="0.9" height="0.9"/><rect x="208.0" y="241.4" width="0.9" height="0.9"/><rect x="206.0" y="242.5" width="0.9" height="0.9"/><rect x="218.0" y="241.7" width="0.9" height="0.9"/><rect x="211.7" y="245.8" width="0.9" height="0.9"/><rect x="208.0" y="236.1" width="0.9" height="0.9"/><rect x="206.2" y="246.1" width="0.9" height="0.9"/><rect x="214.0" y="244.9" width="0.9" height="0.9"/><rect x="209.0" y="245.0" width="0.9" height="0.9"/><rect x="209.8" y="236.4" width="0.9" height="0.9"/><rect x="213.6" y="239.1" width="0.9" height="0.9"/><rect x="212.6" y="240.3" width="0.9" height="0.9"/><rect x="210.5" y="239.5" width="0.9" height="0.9"/><rect x="212.9" y="244.7" width="0.9" height="0.9"/><rect x="212.3" y="242.9" width="0.9" height="0.9"/><rect x="215.7" y="244.3" width="0.9" height="0.9"/><rect x="213.5" y="247.1" width="0.9" height="0.9"/><rect x="207.5" y="239.5" width="0.9" height="0.9"/><rect x="218.7" y="233.9" width="0.9" height="0.9"/><rect x="211.3" y="251.9" width="0.9" height="0.9"/><rect x="218.4" y="241.0" width="0.9" height="0.9"/><rect x="211.8" y="245.4" width="0.9" height="0.9"/><rect x="210.5" y="245.0" width="0.9" height="0.9"/><rect x="208.8" y="240.7" width="0.9" height="0.9"/><rect x="213.5" y="241.9" width="0.9" height="0.9"/><rect x="204.7" y="237.9" width="0.9" height="0.9"/><rect x="222.3" y="246.4" width="0.9" height="0.9"/><rect x="212.1" y="243.6" width="0.9" height="0.9"/><rect x="217.4" y="243.3" width="0.9" height="0.9"/><rect x="208.7" y="243.7" width="0.9" height="0.9"/><rect x="210.6" y="238.5" width="0.9" height="0.9"/><rect x="215.6" y="249.3" width="0.9" height="0.9"/><rect x="210.5" y="242.3" width="0.9" height="0.9"/><rect x="207.0" y="237.3" width="0.9" height="0.9"/><rect x="219.6" y="246.0" width="0.9" height="0.9"/><rect x="217.5" y="245.8" width="0.9" height="0.9"/><rect x="218.1" y="245.0" width="0.9" height="0.9"/><rect x="204.6" y="242.6" width="0.9" height="0.9"/><rect x="208.7" y="243.7" width="0.9" height="0.9"/><rect x="205.4" y="241.0" width="0.9" height="0.9"/><rect x="211.3" y="243.1" width="0.9" height="0.9"/><rect x="212.2" y="242.4" width="0.9" height="0.9"/><rect x="207.4" y="244.9" width="0.9" height="0.9"/><rect x="209.2" y="237.9" width="0.9" height="0.9"/><rect x="205.9" y="241.5" width="0.9" height="0.9"/><rect x="208.5" y="242.2" width="0.9" height="0.9"/><rect x="209.0" y="242.3" width="0.9" height="0.9"/><rect x="208.3" y="236.1" width="0.9" height="0.9"/><rect x="211.1" y="246.0" width="0.9" height="0.9"/><rect x="211.2" y="240.7" width="0.9" height="0.9"/><rect x="211.2" y="237.3" width="0.9" height="0.9"/><rect x="207.1" y="235.6" width="0.9" height="0.9"/><rect x="205.2" y="243.7" width="0.9" height="0.9"/><rect x="211.5" y="242.3" width="0.9" height="0.9"/><rect x="216.4" y="244.5" width="0.9" height="0.9"/><rect x="208.9" y="244.1" width="0.9" height="0.9"/><rect x="217.3" y="245.7" width="0.9" height="0.9"/><rect x="214.1" y="236.8" width="0.9" height="0.9"/><rect x="208.3" y="244.6" width="0.9" height="0.9"/><rect x="207.5" y="246.1" width="0.9" height="0.9"/><rect x="212.0" y="245.4" width="0.9" height="0.9"/><rect x="207.9" y="252.4" width="0.9" height="0.9"/><rect x="215.2" y="240.6" width="0.9" height="0.9"/><rect x="209.5" y="252.7" width="0.9" height="0.9"/><rect x="207.3" y="245.3" width="0.9" height="0.9"/><rect x="213.9" y="241.5" width="0.9" height="0.9"/><rect x="210.8" y="246.4" width="0.9" height="0.9"/><rect x="212.9" y="241.6" width="0.9" height="0.9"/><rect x="213.3" y="243.8" width="0.9" height="0.9"/><rect x="210.0" y="241.7" width="0.9" height="0.9"/><rect x="207.8" y="244.5" width="0.9" height="0.9"/><rect x="209.0" y="235.2" width="0.9" height="0.9"/><rect x="205.6" y="243.9" width="0.9" height="0.9"/><rect x="211.8" y="241.3" width="0.9" height="0.9"/><rect x="207.8" y="235.4" width="0.9" height="0.9"/><rect x="218.1" y="243.7" width="0.9" height="0.9"/><rect x="214.5" y="237.7" width="0.9" height="0.9"/><rect x="208.1" y="233.7" width="0.9" height="0.9"/><rect x="212.9" y="245.5" width="0.9" height="0.9"/><rect x="212.2" y="233.9" width="0.9" height="0.9"/><rect x="205.9" y="235.5" width="0.9" height="0.9"/><rect x="209.2" y="242.6" width="0.9" height="0.9"/><rect x="212.2" y="244.5" width="0.9" height="0.9"/><rect x="216.5" y="246.5" width="0.9" height="0.9"/><rect x="208.6" y="241.5" width="0.9" height="0.9"/><rect x="211.5" y="234.7" width="0.9" height="0.9"/><rect x="208.0" y="240.2" width="0.9" height="0.9"/><rect x="208.7" y="238.2" width="0.9" height="0.9"/><rect x="212.5" y="243.0" width="0.9" height="0.9"/><rect x="208.6" y="238.6" width="0.9" height="0.9"/><rect x="209.7" y="235.6" width="0.9" height="0.9"/><rect x="207.7" y="240.2" width="0.9" height="0.9"/><rect x="211.3" y="244.1" width="0.9" height="0.9"/><rect x="208.8" y="237.8" width="0.9" height="0.9"/><rect x="208.3" y="241.2" width="0.9" height="0.9"/><rect x="212.7" y="242.8" width="0.9" height="0.9"/><rect x="205.4" y="235.7" width="0.9" height="0.9"/><rect x="207.1" y="238.3" width="0.9" height="0.9"/><rect x="206.5" y="242.0" width="0.9" height="0.9"/><rect x="211.6" y="239.7" width="0.9" height="0.9"/><rect x="220.6" y="240.1" width="0.9" height="0.9"/><rect x="214.5" y="242.0" width="0.9" height="0.9"/><rect x="205.2" y="242.6" width="0.9" height="0.9"/><rect x="212.0" y="251.5" width="0.9" height="0.9"/><rect x="210.6" y="247.0" width="0.9" height="0.9"/><rect x="212.8" y="245.6" width="0.9" height="0.9"/><rect x="211.6" y="240.8" width="0.9" height="0.9"/><rect x="211.5" y="236.9" width="0.9" height="0.9"/><rect x="214.9" y="237.1" width="0.9" height="0.9"/><rect x="210.2" y="250.6" width="0.9" height="0.9"/><rect x="207.9" y="241.6" width="0.9" height="0.9"/><rect x="214.8" y="241.6" width="0.9" height="0.9"/><rect x="205.0" y="242.6" width="0.9" height="0.9"/><rect x="211.9" y="244.6" width="0.9" height="0.9"/><rect x="205.1" y="249.0" width="0.9" height="0.9"/><rect x="217.3" y="241.6" width="0.9" height="0.9"/><rect x="210.3" y="239.7" width="0.9" height="0.9"/><rect x="216.1" y="238.5" width="0.9" height="0.9"/><rect x="212.4" y="239.4" width="0.9" height="0.9"/><rect x="205.5" y="244.6" width="0.9" height="0.9"/><rect x="215.7" y="241.5" width="0.9" height="0.9"/><rect x="205.6" y="245.0" width="0.9" height="0.9"/><rect x="208.8" y="242.8" width="0.9" height="0.9"/><rect x="216.6" y="246.4" width="0.9" height="0.9"/><rect x="206.4" y="251.3" width="0.9" height="0.9"/><rect x="209.0" y="244.9" width="0.9" height="0.9"/><rect x="205.8" y="241.3" width="0.9" height="0.9"/><rect x="215.8" y="236.3" width="0.9" height="0.9"/><rect x="214.9" y="239.5" width="0.9" height="0.9"/><rect x="208.7" y="240.2" width="0.9" height="0.9"/><rect x="208.4" y="236.8" width="0.9" height="0.9"/><rect x="209.1" y="235.3" width="0.9" height="0.9"/><rect x="208.6" y="242.8" width="0.9" height="0.9"/><rect x="211.3" y="240.5" width="0.9" height="0.9"/><rect x="206.6" y="248.2" width="0.9" height="0.9"/><rect x="212.8" y="241.0" width="0.9" height="0.9"/><rect x="206.6" y="238.5" width="0.9" height="0.9"/><rect x="210.5" y="243.7" width="0.9" height="0.9"/><rect x="211.8" y="250.5" width="0.9" height="0.9"/><rect x="205.5" y="241.6" width="0.9" height="0.9"/><rect x="206.4" y="242.2" width="0.9" height="0.9"/><rect x="209.8" y="243.3" width="0.9" height="0.9"/><rect x="207.8" y="243.1" width="0.9" height="0.9"/><rect x="209.3" y="244.8" width="0.9" height="0.9"/><rect x="209.0" y="237.1" width="0.9" height="0.9"/><rect x="205.8" y="244.2" width="0.9" height="0.9"/><rect x="212.7" y="242.8" width="0.9" height="0.9"/><rect x="211.5" y="241.1" width="0.9" height="0.9"/><rect x="211.3" y="239.2" width="0.9" height="0.9"/><rect x="208.5" y="244.7" width="0.9" height="0.9"/><rect x="204.6" y="244.3" width="0.9" height="0.9"/><rect x="218.3" y="239.1" width="0.9" height="0.9"/><rect x="209.7" y="240.9" width="0.9" height="0.9"/><rect x="216.7" y="242.9" width="0.9" height="0.9"/><rect x="213.5" y="238.5" width="0.9" height="0.9"/><rect x="208.9" y="241.5" width="0.9" height="0.9"/><rect x="213.5" y="234.0" width="0.9" height="0.9"/><rect x="212.7" y="240.9" width="0.9" height="0.9"/><rect x="211.2" y="243.1" width="0.9" height="0.9"/><rect x="216.5" y="239.0" width="0.9" height="0.9"/><rect x="217.5" y="243.3" width="0.9" height="0.9"/><rect x="210.2" y="251.1" width="0.9" height="0.9"/><rect x="206.4" y="238.6" width="0.9" height="0.9"/><rect x="211.6" y="243.9" width="0.9" height="0.9"/><rect x="210.5" y="242.6" width="0.9" height="0.9"/><rect x="206.3" y="243.5" width="0.9" height="0.9"/><rect x="208.4" y="241.1" width="0.9" height="0.9"/><rect x="207.2" y="246.0" width="0.9" height="0.9"/><rect x="216.0" y="239.9" width="0.9" height="0.9"/><rect x="213.2" y="238.2" width="0.9" height="0.9"/><rect x="209.4" y="244.7" width="0.9" height="0.9"/><rect x="216.6" y="239.9" width="0.9" height="0.9"/><rect x="208.6" y="242.3" width="0.9" height="0.9"/><rect x="205.6" y="243.1" width="0.9" height="0.9"/><rect x="209.2" y="242.6" width="0.9" height="0.9"/><rect x="206.3" y="245.3" width="0.9" height="0.9"/><rect x="207.6" y="238.9" width="0.9" height="0.9"/><rect x="211.4" y="234.8" width="0.9" height="0.9"/><rect x="205.6" y="241.4" width="0.9" height="0.9"/></g>
<g fill="#3a3aff" opacity="0.5"><rect x="221.4" y="242.1" width="0.9" height="0.9"/><rect x="217.3" y="239.4" width="0.9" height="0.9"/><rect x="217.3" y="252.1" width="0.9" height="0.9"/><rect x="209.9" y="256.0" width="0.9" height="0.9"/><rect x="210.2" y="243.1" width="0.9" height="0.9"/><rect x="216.3" y="248.6" width="0.9" height="0.9"/><rect x="219.5" y="247.4" width="0.9" height="0.9"/><rect x="219.7" y="257.5" width="0.9" height="0.9"/><rect x="216.5" y="244.4" width="0.9" height="0.9"/><rect x="222.0" y="245.0" width="0.9" height="0.9"/><rect x="227.5" y="236.2" width="0.9" height="0.9"/><rect x="221.1" y="241.0" width="0.9" height="0.9"/><rect x="221.9" y="254.8" width="0.9" height="0.9"/><rect x="215.0" y="241.6" width="0.9" height="0.9"/><rect x="211.3" y="238.4" width="0.9" height="0.9"/><rect x="210.3" y="246.5" width="0.9" height="0.9"/><rect x="215.3" y="243.4" width="0.9" height="0.9"/><rect x="213.7" y="248.0" width="0.9" height="0.9"/><rect x="218.7" y="242.2" width="0.9" height="0.9"/><rect x="220.0" y="242.2" width="0.9" height="0.9"/><rect x="206.4" y="251.0" width="0.9" height="0.9"/><rect x="218.5" y="237.7" width="0.9" height="0.9"/><rect x="223.1" y="244.9" width="0.9" height="0.9"/><rect x="217.5" y="247.9" width="0.9" height="0.9"/><rect x="216.5" y="242.2" width="0.9" height="0.9"/><rect x="215.2" y="241.4" width="0.9" height="0.9"/><rect x="217.6" y="243.4" width="0.9" height="0.9"/><rect x="220.1" y="241.0" width="0.9" height="0.9"/><rect x="211.8" y="246.7" width="0.9" height="0.9"/><rect x="225.0" y="241.0" width="0.9" height="0.9"/><rect x="214.1" y="251.7" width="0.9" height="0.9"/><rect x="212.6" y="247.0" width="0.9" height="0.9"/><rect x="227.6" y="243.2" width="0.9" height="0.9"/><rect x="224.2" y="239.1" width="0.9" height="0.9"/><rect x="216.6" y="242.6" width="0.9" height="0.9"/><rect x="215.9" y="249.2" width="0.9" height="0.9"/><rect x="232.9" y="239.3" width="0.9" height="0.9"/><rect x="210.7" y="245.7" width="0.9" height="0.9"/><rect x="207.1" y="245.7" width="0.9" height="0.9"/><rect x="219.3" y="241.5" width="0.9" height="0.9"/><rect x="219.0" y="234.5" width="0.9" height="0.9"/><rect x="220.7" y="234.5" width="0.9" height="0.9"/><rect x="209.8" y="239.9" width="0.9" height="0.9"/><rect x="212.0" y="247.7" width="0.9" height="0.9"/><rect x="215.6" y="240.8" width="0.9" height="0.9"/><rect x="219.1" y="251.7" width="0.9" height="0.9"/><rect x="215.0" y="245.0" width="0.9" height="0.9"/><rect x="224.3" y="244.5" width="0.9" height="0.9"/><rect x="205.4" y="256.7" width="0.9" height="0.9"/><rect x="214.7" y="245.3" width="0.9" height="0.9"/><rect x="222.2" y="246.7" width="0.9" height="0.9"/><rect x="213.0" y="237.2" width="0.9" height="0.9"/><rect x="215.8" y="248.7" width="0.9" height="0.9"/><rect x="206.8" y="237.4" width="0.9" height="0.9"/><rect x="213.0" y="240.6" width="0.9" height="0.9"/><rect x="218.4" y="239.1" width="0.9" height="0.9"/><rect x="208.4" y="240.8" width="0.9" height="0.9"/><rect x="214.6" y="239.3" width="0.9" height="0.9"/><rect x="215.1" y="247.1" width="0.9" height="0.9"/><rect x="223.9" y="252.4" width="0.9" height="0.9"/><rect x="209.1" y="240.7" width="0.9" height="0.9"/><rect x="209.6" y="242.8" width="0.9" height="0.9"/><rect x="218.9" y="235.5" width="0.9" height="0.9"/><rect x="218.5" y="242.9" width="0.9" height="0.9"/><rect x="221.1" y="244.2" width="0.9" height="0.9"/><rect x="218.6" y="245.4" width="0.9" height="0.9"/><rect x="224.8" y="241.8" width="0.9" height="0.9"/><rect x="221.6" y="240.7" width="0.9" height="0.9"/><rect x="220.5" y="238.5" width="0.9" height="0.9"/><rect x="214.2" y="252.5" width="0.9" height="0.9"/><rect x="218.3" y="242.1" width="0.9" height="0.9"/><rect x="206.4" y="238.7" width="0.9" height="0.9"/><rect x="216.5" y="248.2" width="0.9" height="0.9"/><rect x="218.2" y="245.9" width="0.9" height="0.9"/><rect x="214.7" y="250.4" width="0.9" height="0.9"/><rect x="212.1" y="240.0" width="0.9" height="0.9"/><rect x="221.7" y="243.3" width="0.9" height="0.9"/><rect x="212.9" y="239.8" width="0.9" height="0.9"/><rect x="213.1" y="246.4" width="0.9" height="0.9"/><rect x="217.7" y="236.3" width="0.9" height="0.9"/><rect x="218.2" y="244.0" width="0.9" height="0.9"/><rect x="207.5" y="247.3" width="0.9" height="0.9"/><rect x="212.9" y="241.2" width="0.9" height="0.9"/><rect x="221.0" y="250.3" width="0.9" height="0.9"/><rect x="209.8" y="245.4" width="0.9" height="0.9"/><rect x="208.4" y="255.7" width="0.9" height="0.9"/><rect x="211.3" y="249.6" width="0.9" height="0.9"/><rect x="210.1" y="247.5" width="0.9" height="0.9"/><rect x="211.7" y="245.8" width="0.9" height="0.9"/><rect x="214.3" y="239.3" width="0.9" height="0.9"/><rect x="231.1" y="243.4" width="0.9" height="0.9"/><rect x="210.7" y="243.8" width="0.9" height="0.9"/><rect x="224.5" y="243.6" width="0.9" height="0.9"/><rect x="204.6" y="233.7" width="0.9" height="0.9"/><rect x="223.9" y="247.1" width="0.9" height="0.9"/><rect x="208.9" y="247.7" width="0.9" height="0.9"/><rect x="218.7" y="246.6" width="0.9" height="0.9"/></g>
<g fill="#3a3aff" opacity="0.5"><rect x="189.8" y="243.4" width="0.9" height="0.9"/><rect x="201.5" y="253.2" width="0.9" height="0.9"/><rect x="199.1" y="231.8" width="0.9" height="0.9"/><rect x="198.5" y="255.9" width="0.9" height="0.9"/><rect x="203.3" y="240.3" width="0.9" height="0.9"/><rect x="191.4" y="246.5" width="0.9" height="0.9"/><rect x="202.1" y="239.9" width="0.9" height="0.9"/><rect x="202.0" y="237.9" width="0.9" height="0.9"/><rect x="199.2" y="235.2" width="0.9" height="0.9"/><rect x="198.0" y="234.0" width="0.9" height="0.9"/><rect x="191.1" y="253.2" width="0.9" height="0.9"/><rect x="199.4" y="235.3" width="0.9" height="0.9"/><rect x="197.9" y="257.3" width="0.9" height="0.9"/><rect x="190.8" y="243.9" width="0.9" height="0.9"/><rect x="200.8" y="253.4" width="0.9" height="0.9"/><rect x="195.6" y="231.4" width="0.9" height="0.9"/><rect x="202.8" y="248.6" width="0.9" height="0.9"/><rect x="197.0" y="234.5" width="0.9" height="0.9"/><rect x="199.6" y="235.8" width="0.9" height="0.9"/><rect x="191.6" y="237.8" width="0.9" height="0.9"/><rect x="192.6" y="236.8" width="0.9" height="0.9"/><rect x="191.1" y="251.5" width="0.9" height="0.9"/><rect x="190.9" y="251.2" width="0.9" height="0.9"/><rect x="191.0" y="249.4" width="0.9" height="0.9"/><rect x="203.1" y="247.2" width="0.9" height="0.9"/><rect x="191.0" y="246.1" width="0.9" height="0.9"/><rect x="197.3" y="231.7" width="0.9" height="0.9"/><rect x="191.3" y="248.3" width="0.9" height="0.9"/><rect x="191.3" y="247.2" width="0.9" height="0.9"/><rect x="200.9" y="254.2" width="0.9" height="0.9"/><rect x="201.8" y="252.0" width="0.9" height="0.9"/><rect x="191.4" y="244.6" width="0.9" height="0.9"/><rect x="193.2" y="237.0" width="0.9" height="0.9"/><rect x="196.0" y="231.7" width="0.9" height="0.9"/><rect x="191.3" y="244.5" width="0.9" height="0.9"/><rect x="190.7" y="245.0" width="0.9" height="0.9"/><rect x="202.0" y="241.9" width="0.9" height="0.9"/><rect x="201.1" y="234.0" width="0.9" height="0.9"/><rect x="195.9" y="231.6" width="0.9" height="0.9"/><rect x="199.2" y="258.8" width="0.9" height="0.9"/><rect x="189.7" y="246.0" width="0.9" height="0.9"/><rect x="201.5" y="239.6" width="0.9" height="0.9"/><rect x="198.4" y="231.5" width="0.9" height="0.9"/><rect x="202.1" y="250.1" width="0.9" height="0.9"/><rect x="196.9" y="234.0" width="0.9" height="0.9"/><rect x="201.3" y="238.2" width="0.9" height="0.9"/><rect x="198.9" y="235.0" width="0.9" height="0.9"/><rect x="189.7" y="245.1" width="0.9" height="0.9"/><rect x="198.2" y="256.6" width="0.9" height="0.9"/><rect x="190.8" y="244.9" width="0.9" height="0.9"/><rect x="202.2" y="247.9" width="0.9" height="0.9"/><rect x="200.4" y="257.4" width="0.9" height="0.9"/><rect x="193.7" y="232.6" width="0.9" height="0.9"/><rect x="200.0" y="257.2" width="0.9" height="0.9"/><rect x="201.4" y="253.7" width="0.9" height="0.9"/><rect x="192.8" y="236.2" width="0.9" height="0.9"/><rect x="201.1" y="236.1" width="0.9" height="0.9"/><rect x="190.6" y="238.5" width="0.9" height="0.9"/><rect x="202.3" y="254.1" width="0.9" height="0.9"/><rect x="192.6" y="236.4" width="0.9" height="0.9"/></g>
<g filter="url(#bl)"><ellipse cx="196.60" cy="245.30" rx="7.00" ry="13.60" fill="#3030ff" opacity="0.45"/><ellipse cx="196.70" cy="241.50" rx="6.30" ry="9.00" fill="#0000ff" opacity="1"/><ellipse cx="196.80" cy="250.50" rx="5.20" ry="7.60" fill="#0000ff" opacity="1"/><ellipse cx="197.00" cy="241.40" rx="5.60" ry="8.30" fill="#0070ff" opacity="1"/><ellipse cx="196.85" cy="250.00" rx="4.40" ry="6.90" fill="#0070ff" opacity="1"/><ellipse cx="196.90" cy="250.20" rx="3.00" ry="5.40" fill="#00b0ff" opacity="1"/><ellipse cx="197.10" cy="241.40" rx="4.70" ry="7.10" fill="#00e0ff" opacity="1"/><ellipse cx="196.90" cy="249.00" rx="2.30" ry="4.60" fill="#00e0ff" opacity="1"/><ellipse cx="197.20" cy="241.90" rx="4.20" ry="6.50" fill="#00ffa0" opacity="1"/><ellipse cx="197.30" cy="242.40" rx="3.70" ry="5.90" fill="#30ff30" opacity="1"/><ellipse cx="197.30" cy="242.50" rx="2.50" ry="4.80" fill="#a8ff00" opacity="1"/><ellipse cx="197.35" cy="242.65" rx="1.90" ry="3.90" fill="#ffff00" opacity="1"/><ellipse cx="197.35" cy="243.10" rx="1.35" ry="2.60" fill="#ff9000" opacity="1"/><ellipse cx="197.40" cy="243.10" rx="0.90" ry="1.60" fill="#ff0a00" opacity="1"/></g>
<g fill="#0000ff" opacity="0.6"><rect x="348.1" y="241.0" width="0.9" height="0.9"/><rect x="355.7" y="244.6" width="0.9" height="0.9"/><rect x="342.4" y="246.2" width="0.9" height="0.9"/><rect x="346.4" y="243.3" width="0.9" height="0.9"/><rect x="348.8" y="241.3" width="0.9" height="0.9"/><rect x="346.3" y="245.3" width="0.9" height="0.9"/><rect x="350.4" y="245.6" width="0.9" height="0.9"/><rect x="340.9" y="241.2" width="0.9" height="0.9"/><rect x="349.9" y="247.8" width="0.9" height="0.9"/><rect x="345.7" y="244.1" width="0.9" height="0.9"/><rect x="353.1" y="245.1" width="0.9" height="0.9"/><rect x="351.7" y="248.1" width="0.9" height="0.9"/><rect x="348.0" y="251.9" width="0.9" height="0.9"/><rect x="342.5" y="243.1" width="0.9" height="0.9"/><rect x="340.8" y="240.8" width="0.9" height="0.9"/><rect x="357.4" y="254.3" width="0.9" height="0.9"/><rect x="346.7" y="248.0" width="0.9" height="0.9"/><rect x="354.7" y="249.3" width="0.9" height="0.9"/><rect x="354.9" y="238.3" width="0.9" height="0.9"/><rect x="342.0" y="247.4" width="0.9" height="0.9"/><rect x="356.5" y="245.6" width="0.9" height="0.9"/><rect x="340.5" y="243.1" width="0.9" height="0.9"/><rect x="341.9" y="240.5" width="0.9" height="0.9"/><rect x="357.0" y="241.7" width="0.9" height="0.9"/><rect x="346.6" y="256.5" width="0.9" height="0.9"/><rect x="354.8" y="246.8" width="0.9" height="0.9"/><rect x="342.2" y="247.2" width="0.9" height="0.9"/><rect x="357.9" y="248.3" width="0.9" height="0.9"/><rect x="355.3" y="245.5" width="0.9" height="0.9"/><rect x="350.1" y="243.9" width="0.9" height="0.9"/><rect x="349.5" y="251.9" width="0.9" height="0.9"/><rect x="348.2" y="242.0" width="0.9" height="0.9"/><rect x="344.3" y="249.2" width="0.9" height="0.9"/><rect x="360.5" y="248.3" width="0.9" height="0.9"/><rect x="348.8" y="236.8" width="0.9" height="0.9"/><rect x="360.0" y="245.4" width="0.9" height="0.9"/><rect x="346.3" y="239.1" width="0.9" height="0.9"/><rect x="346.1" y="239.2" width="0.9" height="0.9"/><rect x="347.0" y="247.5" width="0.9" height="0.9"/><rect x="346.7" y="246.5" width="0.9" height="0.9"/><rect x="340.5" y="252.6" width="0.9" height="0.9"/><rect x="341.9" y="235.4" width="0.9" height="0.9"/><rect x="345.2" y="241.0" width="0.9" height="0.9"/><rect x="348.5" y="238.7" width="0.9" height="0.9"/><rect x="345.5" y="252.6" width="0.9" height="0.9"/><rect x="351.3" y="244.2" width="0.9" height="0.9"/><rect x="347.4" y="244.4" width="0.9" height="0.9"/><rect x="346.2" y="248.9" width="0.9" height="0.9"/><rect x="346.3" y="240.3" width="0.9" height="0.9"/><rect x="351.1" y="241.8" width="0.9" height="0.9"/><rect x="347.5" y="256.5" width="0.9" height="0.9"/><rect x="342.0" y="235.1" width="0.9" height="0.9"/><rect x="341.1" y="243.1" width="0.9" height="0.9"/><rect x="348.8" y="252.2" width="0.9" height="0.9"/><rect x="360.1" y="250.5" width="0.9" height="0.9"/><rect x="347.5" y="246.0" width="0.9" height="0.9"/><rect x="359.1" y="252.6" width="0.9" height="0.9"/><rect x="344.3" y="247.4" width="0.9" height="0.9"/><rect x="348.5" y="245.3" width="0.9" height="0.9"/><rect x="343.0" y="238.0" width="0.9" height="0.9"/><rect x="342.8" y="236.8" width="0.9" height="0.9"/><rect x="355.1" y="247.8" width="0.9" height="0.9"/><rect x="352.7" y="234.9" width="0.9" height="0.9"/><rect x="359.4" y="249.3" width="0.9" height="0.9"/><rect x="360.9" y="238.5" width="0.9" height="0.9"/><rect x="350.2" y="247.2" width="0.9" height="0.9"/><rect x="347.9" y="245.9" width="0.9" height="0.9"/><rect x="353.9" y="237.1" width="0.9" height="0.9"/><rect x="342.6" y="241.8" width="0.9" height="0.9"/><rect x="349.1" y="246.4" width="0.9" height="0.9"/><rect x="346.7" y="241.4" width="0.9" height="0.9"/><rect x="343.4" y="250.0" width="0.9" height="0.9"/><rect x="351.8" y="245.5" width="0.9" height="0.9"/><rect x="344.2" y="253.2" width="0.9" height="0.9"/><rect x="342.3" y="248.4" width="0.9" height="0.9"/><rect x="354.6" y="243.6" width="0.9" height="0.9"/><rect x="352.3" y="239.1" width="0.9" height="0.9"/><rect x="353.6" y="246.1" width="0.9" height="0.9"/><rect x="340.3" y="251.8" width="0.9" height="0.9"/><rect x="341.7" y="244.1" width="0.9" height="0.9"/><rect x="348.5" y="243.2" width="0.9" height="0.9"/><rect x="348.3" y="242.1" width="0.9" height="0.9"/><rect x="351.2" y="245.0" width="0.9" height="0.9"/><rect x="354.6" y="245.2" width="0.9" height="0.9"/><rect x="349.8" y="250.7" width="0.9" height="0.9"/><rect x="345.5" y="248.6" width="0.9" height="0.9"/><rect x="343.9" y="239.1" width="0.9" height="0.9"/><rect x="354.2" y="249.8" width="0.9" height="0.9"/><rect x="357.3" y="249.5" width="0.9" height="0.9"/><rect x="342.5" y="236.2" width="0.9" height="0.9"/><rect x="341.9" y="241.4" width="0.9" height="0.9"/><rect x="340.8" y="248.1" width="0.9" height="0.9"/><rect x="348.8" y="243.6" width="0.9" height="0.9"/><rect x="347.7" y="244.2" width="0.9" height="0.9"/><rect x="348.0" y="249.0" width="0.9" height="0.9"/><rect x="353.2" y="241.4" width="0.9" height="0.9"/><rect x="347.3" y="250.9" width="0.9" height="0.9"/><rect x="346.7" y="237.4" width="0.9" height="0.9"/><rect x="342.9" y="248.8" width="0.9" height="0.9"/><rect x="354.0" y="253.4" width="0.9" height="0.9"/><rect x="340.5" y="237.6" width="0.9" height="0.9"/><rect x="350.1" y="250.0" width="0.9" height="0.9"/><rect x="347.9" y="238.1" width="0.9" height="0.9"/><rect x="352.0" y="249.2" width="0.9" height="0.9"/><rect x="350.4" y="242.4" width="0.9" height="0.9"/><rect x="348.6" y="249.2" width="0.9" height="0.9"/><rect x="342.6" y="235.2" width="0.9" height="0.9"/><rect x="348.8" y="247.5" width="0.9" height="0.9"/><rect x="346.6" y="249.7" width="0.9" height="0.9"/><rect x="342.4" y="244.6" width="0.9" height="0.9"/><rect x="344.4" y="248.0" width="0.9" height="0.9"/><rect x="357.7" y="243.7" width="0.9" height="0.9"/><rect x="360.9" y="253.1" width="0.9" height="0.9"/><rect x="352.0" y="248.1" width="0.9" height="0.9"/><rect x="358.9" y="244.0" width="0.9" height="0.9"/><rect x="345.7" y="239.4" width="0.9" height="0.9"/><rect x="349.8" y="252.1" width="0.9" height="0.9"/><rect x="350.2" y="247.2" width="0.9" height="0.9"/><rect x="345.1" y="245.9" width="0.9" height="0.9"/><rect x="343.6" y="239.1" width="0.9" height="0.9"/><rect x="341.2" y="240.6" width="0.9" height="0.9"/><rect x="352.5" y="250.6" width="0.9" height="0.9"/><rect x="352.7" y="241.9" width="0.9" height="0.9"/><rect x="342.1" y="246.8" width="0.9" height="0.9"/><rect x="344.0" y="234.3" width="0.9" height="0.9"/><rect x="348.1" y="236.9" width="0.9" height="0.9"/><rect x="352.8" y="238.6" width="0.9" height="0.9"/><rect x="341.6" y="240.5" width="0.9" height="0.9"/><rect x="342.7" y="251.9" width="0.9" height="0.9"/><rect x="352.5" y="248.2" width="0.9" height="0.9"/><rect x="348.7" y="236.8" width="0.9" height="0.9"/><rect x="342.9" y="242.1" width="0.9" height="0.9"/><rect x="341.3" y="241.2" width="0.9" height="0.9"/><rect x="350.7" y="252.1" width="0.9" height="0.9"/><rect x="347.7" y="239.8" width="0.9" height="0.9"/><rect x="355.0" y="246.6" width="0.9" height="0.9"/><rect x="353.0" y="252.8" width="0.9" height="0.9"/><rect x="354.4" y="242.7" width="0.9" height="0.9"/><rect x="353.9" y="249.1" width="0.9" height="0.9"/><rect x="350.5" y="239.3" width="0.9" height="0.9"/><rect x="349.1" y="252.8" width="0.9" height="0.9"/><rect x="361.0" y="255.6" width="0.9" height="0.9"/><rect x="345.0" y="246.4" width="0.9" height="0.9"/><rect x="345.4" y="250.3" width="0.9" height="0.9"/><rect x="353.8" y="245.5" width="0.9" height="0.9"/><rect x="343.2" y="248.3" width="0.9" height="0.9"/><rect x="348.3" y="253.6" width="0.9" height="0.9"/><rect x="354.5" y="242.6" width="0.9" height="0.9"/><rect x="348.9" y="254.3" width="0.9" height="0.9"/><rect x="342.7" y="247.3" width="0.9" height="0.9"/><rect x="354.8" y="251.7" width="0.9" height="0.9"/><rect x="350.1" y="238.0" width="0.9" height="0.9"/><rect x="340.5" y="251.0" width="0.9" height="0.9"/><rect x="351.9" y="236.1" width="0.9" height="0.9"/><rect x="340.8" y="245.9" width="0.9" height="0.9"/><rect x="343.0" y="244.2" width="0.9" height="0.9"/><rect x="349.8" y="240.7" width="0.9" height="0.9"/><rect x="349.8" y="241.6" width="0.9" height="0.9"/><rect x="342.7" y="247.8" width="0.9" height="0.9"/><rect x="342.5" y="246.5" width="0.9" height="0.9"/><rect x="357.7" y="245.1" width="0.9" height="0.9"/><rect x="345.5" y="248.9" width="0.9" height="0.9"/><rect x="343.9" y="250.7" width="0.9" height="0.9"/><rect x="342.9" y="240.8" width="0.9" height="0.9"/><rect x="358.9" y="240.5" width="0.9" height="0.9"/><rect x="358.8" y="248.5" width="0.9" height="0.9"/><rect x="356.7" y="239.8" width="0.9" height="0.9"/><rect x="354.9" y="252.7" width="0.9" height="0.9"/><rect x="345.7" y="244.3" width="0.9" height="0.9"/><rect x="363.7" y="245.9" width="0.9" height="0.9"/><rect x="343.5" y="241.7" width="0.9" height="0.9"/><rect x="349.6" y="246.8" width="0.9" height="0.9"/><rect x="347.7" y="254.1" width="0.9" height="0.9"/><rect x="344.2" y="247.5" width="0.9" height="0.9"/><rect x="356.7" y="239.7" width="0.9" height="0.9"/><rect x="353.8" y="254.7" width="0.9" height="0.9"/><rect x="349.7" y="235.2" width="0.9" height="0.9"/><rect x="350.0" y="252.7" width="0.9" height="0.9"/><rect x="341.3" y="243.6" width="0.9" height="0.9"/><rect x="346.9" y="247.9" width="0.9" height="0.9"/><rect x="344.1" y="245.1" width="0.9" height="0.9"/><rect x="342.7" y="245.6" width="0.9" height="0.9"/><rect x="359.9" y="245.4" width="0.9" height="0.9"/><rect x="341.3" y="248.9" width="0.9" height="0.9"/><rect x="349.2" y="244.5" width="0.9" height="0.9"/><rect x="355.9" y="246.3" width="0.9" height="0.9"/><rect x="348.0" y="244.2" width="0.9" height="0.9"/><rect x="344.6" y="237.7" width="0.9" height="0.9"/><rect x="341.2" y="249.5" width="0.9" height="0.9"/><rect x="348.3" y="250.5" width="0.9" height="0.9"/><rect x="349.2" y="241.1" width="0.9" height="0.9"/><rect x="349.8" y="240.2" width="0.9" height="0.9"/><rect x="340.9" y="244.9" width="0.9" height="0.9"/><rect x="343.5" y="249.0" width="0.9" height="0.9"/><rect x="343.7" y="251.7" width="0.9" height="0.9"/><rect x="357.4" y="247.1" width="0.9" height="0.9"/><rect x="353.1" y="240.6" width="0.9" height="0.9"/><rect x="352.1" y="246.4" width="0.9" height="0.9"/><rect x="351.0" y="245.1" width="0.9" height="0.9"/><rect x="354.9" y="241.6" width="0.9" height="0.9"/><rect x="354.6" y="241.1" width="0.9" height="0.9"/><rect x="343.4" y="238.3" width="0.9" height="0.9"/><rect x="344.5" y="241.7" width="0.9" height="0.9"/><rect x="342.6" y="239.9" width="0.9" height="0.9"/><rect x="346.8" y="242.6" width="0.9" height="0.9"/><rect x="347.3" y="246.3" width="0.9" height="0.9"/><rect x="342.8" y="240.8" width="0.9" height="0.9"/><rect x="351.9" y="236.6" width="0.9" height="0.9"/><rect x="341.5" y="243.4" width="0.9" height="0.9"/><rect x="344.1" y="250.3" width="0.9" height="0.9"/><rect x="343.4" y="250.1" width="0.9" height="0.9"/><rect x="355.0" y="247.3" width="0.9" height="0.9"/><rect x="349.9" y="245.7" width="0.9" height="0.9"/><rect x="349.9" y="238.6" width="0.9" height="0.9"/><rect x="353.1" y="242.2" width="0.9" height="0.9"/><rect x="353.4" y="245.5" width="0.9" height="0.9"/><rect x="354.4" y="244.3" width="0.9" height="0.9"/><rect x="343.7" y="246.3" width="0.9" height="0.9"/><rect x="343.5" y="242.1" width="0.9" height="0.9"/><rect x="347.2" y="245.8" width="0.9" height="0.9"/><rect x="357.1" y="245.2" width="0.9" height="0.9"/><rect x="359.7" y="254.6" width="0.9" height="0.9"/><rect x="358.5" y="250.6" width="0.9" height="0.9"/><rect x="347.4" y="245.7" width="0.9" height="0.9"/><rect x="345.5" y="241.1" width="0.9" height="0.9"/><rect x="346.0" y="241.6" width="0.9" height="0.9"/><rect x="358.0" y="247.8" width="0.9" height="0.9"/><rect x="343.4" y="234.8" width="0.9" height="0.9"/><rect x="346.1" y="242.8" width="0.9" height="0.9"/><rect x="346.3" y="244.2" width="0.9" height="0.9"/><rect x="356.6" y="245.7" width="0.9" height="0.9"/><rect x="347.7" y="243.0" width="0.9" height="0.9"/><rect x="342.3" y="252.9" width="0.9" height="0.9"/><rect x="353.5" y="254.1" width="0.9" height="0.9"/><rect x="344.1" y="245.2" width="0.9" height="0.9"/><rect x="340.3" y="250.1" width="0.9" height="0.9"/><rect x="354.2" y="252.5" width="0.9" height="0.9"/><rect x="341.5" y="241.0" width="0.9" height="0.9"/><rect x="358.0" y="241.8" width="0.9" height="0.9"/><rect x="341.2" y="243.2" width="0.9" height="0.9"/><rect x="364.1" y="250.3" width="0.9" height="0.9"/><rect x="342.7" y="235.5" width="0.9" height="0.9"/><rect x="341.8" y="251.3" width="0.9" height="0.9"/><rect x="359.6" y="243.6" width="0.9" height="0.9"/><rect x="341.7" y="242.3" width="0.9" height="0.9"/><rect x="348.5" y="241.0" width="0.9" height="0.9"/><rect x="352.0" y="245.0" width="0.9" height="0.9"/><rect x="352.4" y="234.9" width="0.9" height="0.9"/><rect x="359.3" y="247.6" width="0.9" height="0.9"/><rect x="351.8" y="235.1" width="0.9" height="0.9"/><rect x="341.5" y="243.1" width="0.9" height="0.9"/><rect x="354.0" y="237.3" width="0.9" height="0.9"/><rect x="340.3" y="234.2" width="0.9" height="0.9"/><rect x="344.8" y="246.8" width="0.9" height="0.9"/><rect x="350.1" y="253.4" width="0.9" height="0.9"/><rect x="351.1" y="243.4" width="0.9" height="0.9"/><rect x="341.9" y="245.8" width="0.9" height="0.9"/><rect x="346.2" y="253.8" width="0.9" height="0.9"/><rect x="348.5" y="239.3" width="0.9" height="0.9"/><rect x="357.3" y="250.0" width="0.9" height="0.9"/><rect x="347.2" y="241.2" width="0.9" height="0.9"/><rect x="352.9" y="240.7" width="0.9" height="0.9"/><rect x="348.2" y="248.2" width="0.9" height="0.9"/><rect x="351.1" y="252.5" width="0.9" height="0.9"/><rect x="340.6" y="250.2" width="0.9" height="0.9"/><rect x="347.8" y="246.3" width="0.9" height="0.9"/><rect x="353.3" y="244.9" width="0.9" height="0.9"/><rect x="354.3" y="249.6" width="0.9" height="0.9"/><rect x="347.4" y="242.0" width="0.9" height="0.9"/><rect x="341.2" y="242.2" width="0.9" height="0.9"/><rect x="345.1" y="244.9" width="0.9" height="0.9"/><rect x="367.4" y="248.4" width="0.9" height="0.9"/><rect x="351.9" y="240.4" width="0.9" height="0.9"/><rect x="341.5" y="243.3" width="0.9" height="0.9"/><rect x="347.8" y="239.5" width="0.9" height="0.9"/><rect x="357.8" y="242.0" width="0.9" height="0.9"/><rect x="346.5" y="246.5" width="0.9" height="0.9"/><rect x="347.8" y="248.2" width="0.9" height="0.9"/><rect x="348.5" y="245.9" width="0.9" height="0.9"/><rect x="348.7" y="244.0" width="0.9" height="0.9"/><rect x="340.8" y="241.9" width="0.9" height="0.9"/><rect x="359.4" y="254.2" width="0.9" height="0.9"/><rect x="346.1" y="251.8" width="0.9" height="0.9"/><rect x="343.1" y="240.4" width="0.9" height="0.9"/><rect x="342.6" y="246.0" width="0.9" height="0.9"/><rect x="367.7" y="241.5" width="0.9" height="0.9"/><rect x="346.8" y="246.5" width="0.9" height="0.9"/><rect x="346.3" y="249.9" width="0.9" height="0.9"/><rect x="358.9" y="238.4" width="0.9" height="0.9"/><rect x="347.6" y="243.6" width="0.9" height="0.9"/><rect x="349.0" y="236.9" width="0.9" height="0.9"/><rect x="350.2" y="246.0" width="0.9" height="0.9"/><rect x="343.9" y="241.0" width="0.9" height="0.9"/><rect x="351.4" y="247.9" width="0.9" height="0.9"/><rect x="346.3" y="247.7" width="0.9" height="0.9"/><rect x="342.3" y="245.4" width="0.9" height="0.9"/><rect x="346.8" y="247.9" width="0.9" height="0.9"/><rect x="346.0" y="244.2" width="0.9" height="0.9"/><rect x="345.6" y="241.6" width="0.9" height="0.9"/><rect x="362.1" y="247.7" width="0.9" height="0.9"/><rect x="356.3" y="236.8" width="0.9" height="0.9"/><rect x="351.4" y="249.4" width="0.9" height="0.9"/><rect x="359.7" y="252.0" width="0.9" height="0.9"/><rect x="351.9" y="238.8" width="0.9" height="0.9"/><rect x="340.4" y="246.4" width="0.9" height="0.9"/><rect x="350.0" y="239.6" width="0.9" height="0.9"/><rect x="343.8" y="242.9" width="0.9" height="0.9"/><rect x="346.9" y="246.8" width="0.9" height="0.9"/><rect x="344.5" y="238.4" width="0.9" height="0.9"/><rect x="355.2" y="253.5" width="0.9" height="0.9"/><rect x="345.8" y="250.4" width="0.9" height="0.9"/><rect x="349.6" y="248.5" width="0.9" height="0.9"/><rect x="349.9" y="241.0" width="0.9" height="0.9"/><rect x="350.5" y="250.4" width="0.9" height="0.9"/><rect x="340.2" y="255.4" width="0.9" height="0.9"/><rect x="361.1" y="254.7" width="0.9" height="0.9"/><rect x="360.4" y="248.9" width="0.9" height="0.9"/><rect x="344.1" y="241.8" width="0.9" height="0.9"/><rect x="340.8" y="245.6" width="0.9" height="0.9"/><rect x="346.3" y="248.6" width="0.9" height="0.9"/><rect x="362.4" y="244.9" width="0.9" height="0.9"/><rect x="351.2" y="247.5" width="0.9" height="0.9"/><rect x="348.4" y="243.9" width="0.9" height="0.9"/><rect x="345.6" y="240.6" width="0.9" height="0.9"/><rect x="347.7" y="244.9" width="0.9" height="0.9"/><rect x="348.7" y="240.5" width="0.9" height="0.9"/><rect x="346.8" y="245.3" width="0.9" height="0.9"/><rect x="350.7" y="239.4" width="0.9" height="0.9"/><rect x="349.4" y="250.2" width="0.9" height="0.9"/><rect x="350.7" y="243.0" width="0.9" height="0.9"/><rect x="343.1" y="243.7" width="0.9" height="0.9"/><rect x="351.6" y="253.2" width="0.9" height="0.9"/><rect x="345.4" y="241.6" width="0.9" height="0.9"/><rect x="349.1" y="246.1" width="0.9" height="0.9"/><rect x="345.8" y="248.6" width="0.9" height="0.9"/><rect x="350.0" y="238.5" width="0.9" height="0.9"/><rect x="347.3" y="246.9" width="0.9" height="0.9"/><rect x="345.7" y="239.6" width="0.9" height="0.9"/><rect x="346.1" y="243.2" width="0.9" height="0.9"/><rect x="348.9" y="240.6" width="0.9" height="0.9"/><rect x="354.1" y="236.1" width="0.9" height="0.9"/><rect x="345.3" y="245.0" width="0.9" height="0.9"/><rect x="353.2" y="241.8" width="0.9" height="0.9"/><rect x="350.3" y="242.0" width="0.9" height="0.9"/><rect x="351.7" y="254.2" width="0.9" height="0.9"/><rect x="343.7" y="247.3" width="0.9" height="0.9"/><rect x="355.0" y="245.2" width="0.9" height="0.9"/><rect x="354.5" y="250.8" width="0.9" height="0.9"/><rect x="352.2" y="235.3" width="0.9" height="0.9"/><rect x="341.7" y="252.5" width="0.9" height="0.9"/><rect x="359.7" y="249.0" width="0.9" height="0.9"/><rect x="354.3" y="243.2" width="0.9" height="0.9"/><rect x="345.1" y="244.7" width="0.9" height="0.9"/><rect x="351.4" y="244.2" width="0.9" height="0.9"/><rect x="347.8" y="247.2" width="0.9" height="0.9"/><rect x="346.5" y="254.8" width="0.9" height="0.9"/><rect x="349.6" y="245.4" width="0.9" height="0.9"/><rect x="345.0" y="241.7" width="0.9" height="0.9"/><rect x="355.9" y="245.8" width="0.9" height="0.9"/><rect x="345.5" y="242.6" width="0.9" height="0.9"/><rect x="354.1" y="238.8" width="0.9" height="0.9"/><rect x="349.9" y="245.8" width="0.9" height="0.9"/><rect x="345.8" y="247.7" width="0.9" height="0.9"/><rect x="343.3" y="246.6" width="0.9" height="0.9"/><rect x="352.0" y="250.5" width="0.9" height="0.9"/><rect x="346.4" y="241.8" width="0.9" height="0.9"/><rect x="354.1" y="233.9" width="0.9" height="0.9"/><rect x="340.9" y="248.6" width="0.9" height="0.9"/><rect x="351.1" y="239.5" width="0.9" height="0.9"/><rect x="347.6" y="240.2" width="0.9" height="0.9"/><rect x="346.9" y="249.8" width="0.9" height="0.9"/><rect x="351.7" y="234.0" width="0.9" height="0.9"/><rect x="351.9" y="235.6" width="0.9" height="0.9"/><rect x="354.5" y="247.1" width="0.9" height="0.9"/><rect x="362.3" y="241.8" width="0.9" height="0.9"/><rect x="346.5" y="250.6" width="0.9" height="0.9"/><rect x="342.0" y="241.3" width="0.9" height="0.9"/><rect x="343.9" y="244.6" width="0.9" height="0.9"/><rect x="350.3" y="245.4" width="0.9" height="0.9"/><rect x="358.4" y="243.3" width="0.9" height="0.9"/><rect x="355.6" y="242.1" width="0.9" height="0.9"/><rect x="351.8" y="234.7" width="0.9" height="0.9"/><rect x="347.9" y="244.1" width="0.9" height="0.9"/><rect x="343.0" y="241.8" width="0.9" height="0.9"/><rect x="344.1" y="241.2" width="0.9" height="0.9"/><rect x="342.7" y="242.2" width="0.9" height="0.9"/><rect x="352.0" y="243.7" width="0.9" height="0.9"/><rect x="343.1" y="252.2" width="0.9" height="0.9"/><rect x="353.3" y="249.9" width="0.9" height="0.9"/><rect x="354.6" y="243.3" width="0.9" height="0.9"/><rect x="345.6" y="250.9" width="0.9" height="0.9"/><rect x="342.6" y="244.4" width="0.9" height="0.9"/><rect x="349.1" y="247.0" width="0.9" height="0.9"/><rect x="344.6" y="250.2" width="0.9" height="0.9"/><rect x="345.3" y="248.8" width="0.9" height="0.9"/><rect x="354.0" y="248.5" width="0.9" height="0.9"/><rect x="351.6" y="238.9" width="0.9" height="0.9"/><rect x="349.8" y="253.0" width="0.9" height="0.9"/><rect x="340.5" y="241.1" width="0.9" height="0.9"/><rect x="344.6" y="248.7" width="0.9" height="0.9"/><rect x="348.0" y="251.3" width="0.9" height="0.9"/><rect x="353.0" y="245.4" width="0.9" height="0.9"/><rect x="349.8" y="242.0" width="0.9" height="0.9"/><rect x="343.1" y="253.7" width="0.9" height="0.9"/><rect x="347.9" y="246.7" width="0.9" height="0.9"/><rect x="351.7" y="240.9" width="0.9" height="0.9"/><rect x="352.9" y="247.0" width="0.9" height="0.9"/><rect x="350.4" y="247.4" width="0.9" height="0.9"/><rect x="357.6" y="242.8" width="0.9" height="0.9"/><rect x="350.1" y="249.0" width="0.9" height="0.9"/><rect x="350.2" y="239.2" width="0.9" height="0.9"/><rect x="345.7" y="236.3" width="0.9" height="0.9"/><rect x="347.0" y="239.0" width="0.9" height="0.9"/><rect x="348.9" y="236.9" width="0.9" height="0.9"/><rect x="349.6" y="243.6" width="0.9" height="0.9"/><rect x="346.9" y="244.6" width="0.9" height="0.9"/><rect x="347.4" y="238.0" width="0.9" height="0.9"/><rect x="349.5" y="234.5" width="0.9" height="0.9"/><rect x="341.2" y="241.8" width="0.9" height="0.9"/><rect x="345.5" y="240.7" width="0.9" height="0.9"/><rect x="341.9" y="248.1" width="0.9" height="0.9"/><rect x="349.6" y="235.0" width="0.9" height="0.9"/><rect x="348.9" y="249.1" width="0.9" height="0.9"/><rect x="352.1" y="250.5" width="0.9" height="0.9"/><rect x="343.9" y="243.9" width="0.9" height="0.9"/><rect x="351.9" y="242.7" width="0.9" height="0.9"/><rect x="353.9" y="236.6" width="0.9" height="0.9"/><rect x="351.1" y="244.1" width="0.9" height="0.9"/><rect x="348.7" y="245.1" width="0.9" height="0.9"/><rect x="357.1" y="240.6" width="0.9" height="0.9"/><rect x="343.7" y="240.2" width="0.9" height="0.9"/><rect x="340.6" y="250.6" width="0.9" height="0.9"/><rect x="342.7" y="239.2" width="0.9" height="0.9"/><rect x="352.0" y="248.0" width="0.9" height="0.9"/><rect x="354.4" y="243.6" width="0.9" height="0.9"/><rect x="352.9" y="244.9" width="0.9" height="0.9"/><rect x="349.4" y="249.1" width="0.9" height="0.9"/><rect x="359.5" y="243.7" width="0.9" height="0.9"/><rect x="343.1" y="244.8" width="0.9" height="0.9"/><rect x="354.9" y="240.0" width="0.9" height="0.9"/><rect x="352.1" y="241.4" width="0.9" height="0.9"/><rect x="349.7" y="248.6" width="0.9" height="0.9"/><rect x="348.2" y="248.1" width="0.9" height="0.9"/><rect x="345.2" y="243.8" width="0.9" height="0.9"/><rect x="342.8" y="252.6" width="0.9" height="0.9"/><rect x="352.5" y="245.1" width="0.9" height="0.9"/><rect x="351.6" y="239.1" width="0.9" height="0.9"/><rect x="344.2" y="241.9" width="0.9" height="0.9"/><rect x="345.5" y="252.6" width="0.9" height="0.9"/><rect x="349.5" y="247.1" width="0.9" height="0.9"/><rect x="346.7" y="242.5" width="0.9" height="0.9"/><rect x="350.0" y="246.9" width="0.9" height="0.9"/><rect x="347.5" y="245.3" width="0.9" height="0.9"/><rect x="347.3" y="240.4" width="0.9" height="0.9"/><rect x="345.1" y="240.2" width="0.9" height="0.9"/><rect x="349.2" y="248.7" width="0.9" height="0.9"/><rect x="358.8" y="251.7" width="0.9" height="0.9"/><rect x="340.9" y="242.6" width="0.9" height="0.9"/><rect x="360.4" y="248.8" width="0.9" height="0.9"/><rect x="346.5" y="246.6" width="0.9" height="0.9"/><rect x="359.0" y="240.6" width="0.9" height="0.9"/><rect x="340.6" y="255.4" width="0.9" height="0.9"/><rect x="348.9" y="240.9" width="0.9" height="0.9"/><rect x="346.8" y="250.3" width="0.9" height="0.9"/><rect x="345.5" y="241.3" width="0.9" height="0.9"/><rect x="341.3" y="255.1" width="0.9" height="0.9"/><rect x="346.7" y="248.3" width="0.9" height="0.9"/><rect x="343.7" y="247.6" width="0.9" height="0.9"/><rect x="352.2" y="244.2" width="0.9" height="0.9"/><rect x="343.3" y="244.0" width="0.9" height="0.9"/><rect x="344.4" y="246.1" width="0.9" height="0.9"/><rect x="355.9" y="251.9" width="0.9" height="0.9"/><rect x="343.4" y="248.2" width="0.9" height="0.9"/><rect x="348.6" y="249.0" width="0.9" height="0.9"/><rect x="346.7" y="246.4" width="0.9" height="0.9"/><rect x="343.2" y="240.8" width="0.9" height="0.9"/><rect x="352.6" y="251.9" width="0.9" height="0.9"/><rect x="351.1" y="247.3" width="0.9" height="0.9"/><rect x="348.4" y="242.6" width="0.9" height="0.9"/><rect x="347.9" y="242.1" width="0.9" height="0.9"/><rect x="341.5" y="244.9" width="0.9" height="0.9"/><rect x="343.0" y="245.8" width="0.9" height="0.9"/><rect x="345.0" y="241.0" width="0.9" height="0.9"/><rect x="354.0" y="240.8" width="0.9" height="0.9"/><rect x="342.9" y="247.9" width="0.9" height="0.9"/><rect x="342.7" y="242.7" width="0.9" height="0.9"/><rect x="349.0" y="243.1" width="0.9" height="0.9"/><rect x="345.0" y="254.0" width="0.9" height="0.9"/><rect x="341.0" y="243.1" width="0.9" height="0.9"/><rect x="344.2" y="246.4" width="0.9" height="0.9"/><rect x="352.5" y="254.3" width="0.9" height="0.9"/><rect x="342.0" y="252.0" width="0.9" height="0.9"/><rect x="353.5" y="249.3" width="0.9" height="0.9"/><rect x="341.2" y="249.8" width="0.9" height="0.9"/><rect x="345.7" y="246.9" width="0.9" height="0.9"/><rect x="344.6" y="248.5" width="0.9" height="0.9"/><rect x="354.3" y="251.0" width="0.9" height="0.9"/><rect x="345.1" y="250.3" width="0.9" height="0.9"/><rect x="356.7" y="240.0" width="0.9" height="0.9"/><rect x="356.8" y="237.9" width="0.9" height="0.9"/><rect x="350.3" y="248.1" width="0.9" height="0.9"/><rect x="356.9" y="246.5" width="0.9" height="0.9"/><rect x="343.1" y="240.8" width="0.9" height="0.9"/><rect x="344.8" y="241.2" width="0.9" height="0.9"/><rect x="350.2" y="240.9" width="0.9" height="0.9"/><rect x="343.4" y="242.6" width="0.9" height="0.9"/><rect x="358.1" y="252.8" width="0.9" height="0.9"/><rect x="345.4" y="236.7" width="0.9" height="0.9"/><rect x="348.4" y="245.4" width="0.9" height="0.9"/><rect x="348.9" y="248.0" width="0.9" height="0.9"/><rect x="344.3" y="249.9" width="0.9" height="0.9"/><rect x="352.4" y="246.1" width="0.9" height="0.9"/><rect x="343.7" y="242.5" width="0.9" height="0.9"/><rect x="351.3" y="239.2" width="0.9" height="0.9"/><rect x="345.4" y="241.0" width="0.9" height="0.9"/><rect x="346.3" y="245.2" width="0.9" height="0.9"/><rect x="352.6" y="237.1" width="0.9" height="0.9"/><rect x="346.0" y="246.5" width="0.9" height="0.9"/><rect x="352.3" y="239.2" width="0.9" height="0.9"/><rect x="351.5" y="246.2" width="0.9" height="0.9"/><rect x="356.0" y="251.0" width="0.9" height="0.9"/><rect x="350.3" y="256.4" width="0.9" height="0.9"/><rect x="346.5" y="242.8" width="0.9" height="0.9"/><rect x="344.1" y="240.0" width="0.9" height="0.9"/><rect x="346.3" y="235.0" width="0.9" height="0.9"/><rect x="345.9" y="247.3" width="0.9" height="0.9"/><rect x="353.4" y="243.2" width="0.9" height="0.9"/><rect x="356.2" y="241.5" width="0.9" height="0.9"/><rect x="345.6" y="235.0" width="0.9" height="0.9"/><rect x="341.2" y="240.8" width="0.9" height="0.9"/><rect x="356.7" y="247.7" width="0.9" height="0.9"/><rect x="349.8" y="243.8" width="0.9" height="0.9"/><rect x="346.7" y="243.4" width="0.9" height="0.9"/><rect x="342.8" y="235.8" width="0.9" height="0.9"/><rect x="345.9" y="251.6" width="0.9" height="0.9"/><rect x="356.3" y="243.6" width="0.9" height="0.9"/><rect x="341.4" y="243.9" width="0.9" height="0.9"/><rect x="352.6" y="246.8" width="0.9" height="0.9"/><rect x="342.5" y="246.9" width="0.9" height="0.9"/><rect x="345.1" y="247.7" width="0.9" height="0.9"/><rect x="343.7" y="237.4" width="0.9" height="0.9"/><rect x="346.9" y="248.9" width="0.9" height="0.9"/><rect x="352.5" y="243.1" width="0.9" height="0.9"/><rect x="342.1" y="255.5" width="0.9" height="0.9"/><rect x="352.2" y="250.3" width="0.9" height="0.9"/><rect x="351.5" y="251.9" width="0.9" height="0.9"/><rect x="347.8" y="235.1" width="0.9" height="0.9"/><rect x="350.9" y="247.9" width="0.9" height="0.9"/><rect x="343.5" y="247.8" width="0.9" height="0.9"/><rect x="351.8" y="246.6" width="0.9" height="0.9"/><rect x="350.1" y="252.8" width="0.9" height="0.9"/><rect x="343.3" y="245.8" width="0.9" height="0.9"/><rect x="342.9" y="250.3" width="0.9" height="0.9"/><rect x="343.7" y="247.4" width="0.9" height="0.9"/><rect x="347.4" y="245.3" width="0.9" height="0.9"/><rect x="358.1" y="244.6" width="0.9" height="0.9"/><rect x="356.1" y="249.2" width="0.9" height="0.9"/><rect x="355.4" y="244.2" width="0.9" height="0.9"/><rect x="352.8" y="248.9" width="0.9" height="0.9"/><rect x="342.3" y="246.4" width="0.9" height="0.9"/><rect x="345.6" y="244.8" width="0.9" height="0.9"/><rect x="355.3" y="241.3" width="0.9" height="0.9"/><rect x="343.4" y="241.7" width="0.9" height="0.9"/><rect x="346.6" y="247.9" width="0.9" height="0.9"/><rect x="358.4" y="246.6" width="0.9" height="0.9"/><rect x="349.6" y="241.2" width="0.9" height="0.9"/><rect x="350.4" y="251.9" width="0.9" height="0.9"/><rect x="355.6" y="235.0" width="0.9" height="0.9"/><rect x="352.5" y="253.1" width="0.9" height="0.9"/><rect x="352.1" y="237.4" width="0.9" height="0.9"/><rect x="344.4" y="248.0" width="0.9" height="0.9"/><rect x="349.3" y="240.9" width="0.9" height="0.9"/><rect x="340.5" y="249.9" width="0.9" height="0.9"/><rect x="346.6" y="246.5" width="0.9" height="0.9"/><rect x="351.1" y="237.5" width="0.9" height="0.9"/><rect x="360.5" y="237.8" width="0.9" height="0.9"/><rect x="349.7" y="248.7" width="0.9" height="0.9"/><rect x="344.0" y="243.9" width="0.9" height="0.9"/><rect x="344.9" y="242.1" width="0.9" height="0.9"/><rect x="348.2" y="245.8" width="0.9" height="0.9"/><rect x="342.3" y="246.3" width="0.9" height="0.9"/><rect x="346.4" y="244.6" width="0.9" height="0.9"/><rect x="353.9" y="236.2" width="0.9" height="0.9"/><rect x="348.2" y="239.6" width="0.9" height="0.9"/><rect x="344.4" y="252.6" width="0.9" height="0.9"/><rect x="342.5" y="249.8" width="0.9" height="0.9"/><rect x="350.0" y="243.2" width="0.9" height="0.9"/><rect x="344.4" y="250.5" width="0.9" height="0.9"/><rect x="340.5" y="243.1" width="0.9" height="0.9"/><rect x="347.5" y="247.1" width="0.9" height="0.9"/><rect x="343.0" y="250.3" width="0.9" height="0.9"/><rect x="361.6" y="242.9" width="0.9" height="0.9"/><rect x="359.1" y="234.3" width="0.9" height="0.9"/><rect x="356.0" y="243.2" width="0.9" height="0.9"/><rect x="347.4" y="243.3" width="0.9" height="0.9"/><rect x="342.2" y="238.5" width="0.9" height="0.9"/><rect x="343.8" y="251.6" width="0.9" height="0.9"/><rect x="354.2" y="243.2" width="0.9" height="0.9"/><rect x="343.0" y="241.4" width="0.9" height="0.9"/><rect x="351.0" y="245.6" width="0.9" height="0.9"/><rect x="343.2" y="239.8" width="0.9" height="0.9"/><rect x="355.3" y="249.0" width="0.9" height="0.9"/><rect x="349.8" y="247.2" width="0.9" height="0.9"/><rect x="353.3" y="240.7" width="0.9" height="0.9"/><rect x="357.1" y="251.8" width="0.9" height="0.9"/><rect x="346.4" y="247.4" width="0.9" height="0.9"/><rect x="341.3" y="244.2" width="0.9" height="0.9"/><rect x="347.8" y="251.8" width="0.9" height="0.9"/><rect x="352.9" y="249.1" width="0.9" height="0.9"/><rect x="344.1" y="243.9" width="0.9" height="0.9"/><rect x="344.2" y="246.1" width="0.9" height="0.9"/><rect x="346.6" y="242.4" width="0.9" height="0.9"/><rect x="357.7" y="244.5" width="0.9" height="0.9"/><rect x="357.1" y="251.0" width="0.9" height="0.9"/><rect x="343.2" y="247.0" width="0.9" height="0.9"/><rect x="355.2" y="243.3" width="0.9" height="0.9"/><rect x="347.1" y="242.2" width="0.9" height="0.9"/><rect x="346.9" y="243.2" width="0.9" height="0.9"/><rect x="347.1" y="250.1" width="0.9" height="0.9"/><rect x="355.9" y="245.7" width="0.9" height="0.9"/><rect x="347.9" y="249.4" width="0.9" height="0.9"/><rect x="344.6" y="239.6" width="0.9" height="0.9"/><rect x="354.0" y="240.2" width="0.9" height="0.9"/><rect x="352.8" y="240.1" width="0.9" height="0.9"/><rect x="358.8" y="239.7" width="0.9" height="0.9"/><rect x="352.2" y="252.6" width="0.9" height="0.9"/><rect x="341.0" y="236.0" width="0.9" height="0.9"/><rect x="351.4" y="248.6" width="0.9" height="0.9"/><rect x="346.1" y="243.4" width="0.9" height="0.9"/><rect x="344.0" y="243.5" width="0.9" height="0.9"/><rect x="358.6" y="252.9" width="0.9" height="0.9"/><rect x="344.1" y="241.4" width="0.9" height="0.9"/><rect x="349.2" y="250.4" width="0.9" height="0.9"/><rect x="351.4" y="239.1" width="0.9" height="0.9"/><rect x="347.6" y="245.7" width="0.9" height="0.9"/><rect x="356.2" y="251.1" width="0.9" height="0.9"/><rect x="350.0" y="251.2" width="0.9" height="0.9"/><rect x="343.8" y="252.8" width="0.9" height="0.9"/><rect x="343.6" y="247.0" width="0.9" height="0.9"/><rect x="352.7" y="240.4" width="0.9" height="0.9"/><rect x="341.8" y="236.1" width="0.9" height="0.9"/><rect x="347.6" y="244.7" width="0.9" height="0.9"/><rect x="344.3" y="247.5" width="0.9" height="0.9"/><rect x="347.1" y="243.6" width="0.9" height="0.9"/><rect x="351.8" y="253.9" width="0.9" height="0.9"/><rect x="343.5" y="240.2" width="0.9" height="0.9"/><rect x="342.4" y="245.5" width="0.9" height="0.9"/><rect x="350.4" y="240.6" width="0.9" height="0.9"/><rect x="353.2" y="239.8" width="0.9" height="0.9"/><rect x="352.1" y="247.2" width="0.9" height="0.9"/><rect x="349.6" y="256.0" width="0.9" height="0.9"/><rect x="344.7" y="244.2" width="0.9" height="0.9"/><rect x="349.7" y="249.4" width="0.9" height="0.9"/><rect x="341.5" y="248.2" width="0.9" height="0.9"/><rect x="355.7" y="245.3" width="0.9" height="0.9"/><rect x="345.8" y="245.9" width="0.9" height="0.9"/><rect x="350.3" y="245.8" width="0.9" height="0.9"/><rect x="343.8" y="241.3" width="0.9" height="0.9"/><rect x="345.3" y="251.2" width="0.9" height="0.9"/><rect x="345.8" y="251.9" width="0.9" height="0.9"/><rect x="348.3" y="244.9" width="0.9" height="0.9"/><rect x="354.9" y="238.4" width="0.9" height="0.9"/><rect x="342.8" y="248.3" width="0.9" height="0.9"/><rect x="350.5" y="234.7" width="0.9" height="0.9"/><rect x="356.3" y="242.0" width="0.9" height="0.9"/><rect x="342.5" y="253.5" width="0.9" height="0.9"/><rect x="346.0" y="238.7" width="0.9" height="0.9"/><rect x="342.2" y="241.3" width="0.9" height="0.9"/><rect x="352.4" y="246.8" width="0.9" height="0.9"/><rect x="346.7" y="248.9" width="0.9" height="0.9"/><rect x="344.3" y="247.3" width="0.9" height="0.9"/><rect x="360.7" y="245.5" width="0.9" height="0.9"/><rect x="341.1" y="243.1" width="0.9" height="0.9"/><rect x="347.8" y="246.7" width="0.9" height="0.9"/><rect x="344.6" y="249.3" width="0.9" height="0.9"/><rect x="345.2" y="238.4" width="0.9" height="0.9"/><rect x="352.4" y="243.1" width="0.9" height="0.9"/><rect x="354.7" y="241.7" width="0.9" height="0.9"/><rect x="350.3" y="246.6" width="0.9" height="0.9"/><rect x="353.8" y="247.5" width="0.9" height="0.9"/><rect x="351.0" y="242.5" width="0.9" height="0.9"/><rect x="346.4" y="246.1" width="0.9" height="0.9"/><rect x="349.3" y="248.6" width="0.9" height="0.9"/><rect x="345.1" y="241.4" width="0.9" height="0.9"/><rect x="342.7" y="247.1" width="0.9" height="0.9"/><rect x="343.7" y="242.2" width="0.9" height="0.9"/><rect x="344.2" y="243.7" width="0.9" height="0.9"/><rect x="351.7" y="234.9" width="0.9" height="0.9"/><rect x="344.4" y="247.4" width="0.9" height="0.9"/><rect x="349.8" y="251.1" width="0.9" height="0.9"/><rect x="353.6" y="239.7" width="0.9" height="0.9"/><rect x="350.8" y="243.3" width="0.9" height="0.9"/><rect x="341.1" y="252.8" width="0.9" height="0.9"/><rect x="342.3" y="240.6" width="0.9" height="0.9"/><rect x="343.8" y="240.7" width="0.9" height="0.9"/><rect x="353.3" y="246.9" width="0.9" height="0.9"/><rect x="355.9" y="247.1" width="0.9" height="0.9"/><rect x="342.4" y="250.3" width="0.9" height="0.9"/><rect x="342.1" y="242.6" width="0.9" height="0.9"/><rect x="345.4" y="245.2" width="0.9" height="0.9"/><rect x="354.5" y="241.9" width="0.9" height="0.9"/><rect x="348.9" y="244.9" width="0.9" height="0.9"/><rect x="345.0" y="247.1" width="0.9" height="0.9"/><rect x="348.7" y="247.4" width="0.9" height="0.9"/><rect x="346.8" y="242.7" width="0.9" height="0.9"/><rect x="349.4" y="239.9" width="0.9" height="0.9"/><rect x="341.5" y="242.2" width="0.9" height="0.9"/><rect x="346.2" y="240.9" width="0.9" height="0.9"/><rect x="343.6" y="236.3" width="0.9" height="0.9"/><rect x="347.5" y="240.5" width="0.9" height="0.9"/><rect x="341.1" y="246.2" width="0.9" height="0.9"/><rect x="347.1" y="245.5" width="0.9" height="0.9"/><rect x="347.5" y="240.0" width="0.9" height="0.9"/><rect x="351.5" y="244.7" width="0.9" height="0.9"/><rect x="346.6" y="242.7" width="0.9" height="0.9"/><rect x="350.2" y="245.5" width="0.9" height="0.9"/><rect x="354.2" y="247.3" width="0.9" height="0.9"/><rect x="342.3" y="243.9" width="0.9" height="0.9"/><rect x="352.7" y="243.1" width="0.9" height="0.9"/><rect x="349.1" y="247.7" width="0.9" height="0.9"/><rect x="347.4" y="246.1" width="0.9" height="0.9"/><rect x="347.4" y="241.1" width="0.9" height="0.9"/><rect x="354.7" y="244.3" width="0.9" height="0.9"/><rect x="342.3" y="241.3" width="0.9" height="0.9"/><rect x="348.9" y="239.4" width="0.9" height="0.9"/><rect x="355.4" y="250.4" width="0.9" height="0.9"/><rect x="355.7" y="248.1" width="0.9" height="0.9"/><rect x="354.9" y="247.5" width="0.9" height="0.9"/><rect x="355.8" y="242.5" width="0.9" height="0.9"/><rect x="347.4" y="249.0" width="0.9" height="0.9"/><rect x="345.9" y="250.6" width="0.9" height="0.9"/><rect x="347.1" y="248.5" width="0.9" height="0.9"/><rect x="347.1" y="237.4" width="0.9" height="0.9"/><rect x="348.4" y="251.7" width="0.9" height="0.9"/><rect x="354.2" y="253.8" width="0.9" height="0.9"/><rect x="350.3" y="241.9" width="0.9" height="0.9"/><rect x="346.6" y="235.1" width="0.9" height="0.9"/><rect x="345.2" y="249.7" width="0.9" height="0.9"/><rect x="352.1" y="251.8" width="0.9" height="0.9"/><rect x="340.2" y="241.6" width="0.9" height="0.9"/><rect x="350.1" y="255.6" width="0.9" height="0.9"/><rect x="349.4" y="242.5" width="0.9" height="0.9"/><rect x="346.0" y="246.1" width="0.9" height="0.9"/><rect x="361.0" y="254.3" width="0.9" height="0.9"/><rect x="361.9" y="245.7" width="0.9" height="0.9"/><rect x="353.2" y="252.0" width="0.9" height="0.9"/><rect x="350.0" y="246.9" width="0.9" height="0.9"/><rect x="345.3" y="242.9" width="0.9" height="0.9"/><rect x="343.5" y="234.3" width="0.9" height="0.9"/><rect x="348.3" y="244.8" width="0.9" height="0.9"/><rect x="347.7" y="254.3" width="0.9" height="0.9"/><rect x="345.8" y="243.6" width="0.9" height="0.9"/><rect x="341.4" y="244.9" width="0.9" height="0.9"/><rect x="343.5" y="246.1" width="0.9" height="0.9"/><rect x="367.8" y="247.0" width="0.9" height="0.9"/><rect x="340.7" y="254.9" width="0.9" height="0.9"/><rect x="352.4" y="249.2" width="0.9" height="0.9"/><rect x="351.4" y="249.2" width="0.9" height="0.9"/><rect x="351.1" y="252.3" width="0.9" height="0.9"/><rect x="353.4" y="252.0" width="0.9" height="0.9"/><rect x="343.1" y="245.0" width="0.9" height="0.9"/><rect x="341.5" y="249.9" width="0.9" height="0.9"/><rect x="352.2" y="242.6" width="0.9" height="0.9"/><rect x="354.9" y="239.2" width="0.9" height="0.9"/><rect x="345.9" y="248.3" width="0.9" height="0.9"/><rect x="346.3" y="247.0" width="0.9" height="0.9"/><rect x="354.5" y="246.7" width="0.9" height="0.9"/><rect x="345.8" y="245.6" width="0.9" height="0.9"/><rect x="342.6" y="237.9" width="0.9" height="0.9"/><rect x="354.3" y="239.0" width="0.9" height="0.9"/><rect x="341.6" y="247.7" width="0.9" height="0.9"/><rect x="341.3" y="248.4" width="0.9" height="0.9"/><rect x="343.2" y="246.6" width="0.9" height="0.9"/><rect x="347.2" y="245.0" width="0.9" height="0.9"/><rect x="346.2" y="252.3" width="0.9" height="0.9"/><rect x="342.8" y="247.7" width="0.9" height="0.9"/><rect x="347.6" y="247.5" width="0.9" height="0.9"/><rect x="353.3" y="237.3" width="0.9" height="0.9"/><rect x="348.4" y="244.1" width="0.9" height="0.9"/><rect x="344.4" y="240.6" width="0.9" height="0.9"/><rect x="341.1" y="239.7" width="0.9" height="0.9"/><rect x="358.1" y="245.1" width="0.9" height="0.9"/><rect x="351.6" y="240.0" width="0.9" height="0.9"/><rect x="347.5" y="252.4" width="0.9" height="0.9"/><rect x="346.2" y="239.8" width="0.9" height="0.9"/><rect x="344.9" y="239.8" width="0.9" height="0.9"/><rect x="343.8" y="240.8" width="0.9" height="0.9"/><rect x="340.5" y="240.2" width="0.9" height="0.9"/><rect x="348.1" y="252.2" width="0.9" height="0.9"/><rect x="345.1" y="256.5" width="0.9" height="0.9"/><rect x="347.2" y="247.9" width="0.9" height="0.9"/><rect x="354.2" y="242.1" width="0.9" height="0.9"/><rect x="348.5" y="241.4" width="0.9" height="0.9"/><rect x="352.6" y="253.7" width="0.9" height="0.9"/><rect x="353.4" y="235.1" width="0.9" height="0.9"/><rect x="347.9" y="243.8" width="0.9" height="0.9"/><rect x="348.0" y="242.5" width="0.9" height="0.9"/><rect x="349.5" y="248.3" width="0.9" height="0.9"/><rect x="351.7" y="248.0" width="0.9" height="0.9"/><rect x="349.3" y="238.9" width="0.9" height="0.9"/><rect x="343.6" y="245.7" width="0.9" height="0.9"/><rect x="343.9" y="239.6" width="0.9" height="0.9"/><rect x="346.7" y="242.0" width="0.9" height="0.9"/><rect x="343.7" y="240.4" width="0.9" height="0.9"/><rect x="341.4" y="244.5" width="0.9" height="0.9"/><rect x="342.1" y="248.5" width="0.9" height="0.9"/><rect x="345.5" y="245.7" width="0.9" height="0.9"/><rect x="349.3" y="251.6" width="0.9" height="0.9"/><rect x="350.6" y="246.2" width="0.9" height="0.9"/><rect x="345.4" y="240.8" width="0.9" height="0.9"/><rect x="344.2" y="248.5" width="0.9" height="0.9"/><rect x="348.0" y="243.0" width="0.9" height="0.9"/><rect x="348.7" y="250.3" width="0.9" height="0.9"/><rect x="349.1" y="237.9" width="0.9" height="0.9"/><rect x="345.0" y="246.1" width="0.9" height="0.9"/><rect x="340.2" y="246.8" width="0.9" height="0.9"/><rect x="345.1" y="240.7" width="0.9" height="0.9"/><rect x="348.9" y="240.4" width="0.9" height="0.9"/><rect x="350.6" y="243.4" width="0.9" height="0.9"/><rect x="357.4" y="243.5" width="0.9" height="0.9"/><rect x="345.2" y="246.8" width="0.9" height="0.9"/><rect x="346.8" y="239.8" width="0.9" height="0.9"/><rect x="356.1" y="239.8" width="0.9" height="0.9"/><rect x="355.8" y="246.1" width="0.9" height="0.9"/><rect x="350.4" y="240.4" width="0.9" height="0.9"/><rect x="341.0" y="237.4" width="0.9" height="0.9"/><rect x="344.9" y="245.9" width="0.9" height="0.9"/><rect x="342.7" y="238.9" width="0.9" height="0.9"/><rect x="347.9" y="236.0" width="0.9" height="0.9"/><rect x="350.1" y="247.5" width="0.9" height="0.9"/><rect x="357.9" y="249.6" width="0.9" height="0.9"/><rect x="348.9" y="246.4" width="0.9" height="0.9"/><rect x="346.7" y="238.2" width="0.9" height="0.9"/><rect x="356.5" y="247.7" width="0.9" height="0.9"/><rect x="344.6" y="239.1" width="0.9" height="0.9"/><rect x="356.6" y="247.7" width="0.9" height="0.9"/><rect x="359.4" y="244.9" width="0.9" height="0.9"/><rect x="349.2" y="242.9" width="0.9" height="0.9"/><rect x="342.2" y="250.5" width="0.9" height="0.9"/><rect x="367.4" y="245.6" width="0.9" height="0.9"/><rect x="345.7" y="249.1" width="0.9" height="0.9"/><rect x="344.4" y="248.8" width="0.9" height="0.9"/><rect x="352.1" y="239.8" width="0.9" height="0.9"/><rect x="352.2" y="246.4" width="0.9" height="0.9"/><rect x="354.9" y="237.9" width="0.9" height="0.9"/><rect x="349.9" y="241.8" width="0.9" height="0.9"/><rect x="347.2" y="246.7" width="0.9" height="0.9"/><rect x="340.7" y="242.5" width="0.9" height="0.9"/><rect x="348.0" y="241.6" width="0.9" height="0.9"/><rect x="354.3" y="241.7" width="0.9" height="0.9"/><rect x="352.3" y="246.5" width="0.9" height="0.9"/><rect x="340.8" y="243.1" width="0.9" height="0.9"/><rect x="344.7" y="254.3" width="0.9" height="0.9"/><rect x="343.7" y="253.1" width="0.9" height="0.9"/><rect x="349.5" y="238.3" width="0.9" height="0.9"/><rect x="353.5" y="247.0" width="0.9" height="0.9"/><rect x="345.1" y="243.7" width="0.9" height="0.9"/><rect x="348.3" y="243.4" width="0.9" height="0.9"/><rect x="342.9" y="243.1" width="0.9" height="0.9"/><rect x="354.4" y="241.8" width="0.9" height="0.9"/><rect x="349.1" y="239.1" width="0.9" height="0.9"/><rect x="341.7" y="237.9" width="0.9" height="0.9"/><rect x="345.2" y="248.5" width="0.9" height="0.9"/><rect x="348.6" y="242.5" width="0.9" height="0.9"/><rect x="350.6" y="243.2" width="0.9" height="0.9"/><rect x="349.0" y="246.4" width="0.9" height="0.9"/><rect x="345.8" y="256.5" width="0.9" height="0.9"/><rect x="344.9" y="242.2" width="0.9" height="0.9"/><rect x="356.6" y="247.8" width="0.9" height="0.9"/><rect x="359.4" y="247.6" width="0.9" height="0.9"/><rect x="345.1" y="248.7" width="0.9" height="0.9"/></g>
<g fill="#3a3aff" opacity="0.5"><rect x="347.9" y="242.6" width="0.9" height="0.9"/><rect x="349.7" y="243.8" width="0.9" height="0.9"/><rect x="360.0" y="242.4" width="0.9" height="0.9"/><rect x="356.5" y="242.3" width="0.9" height="0.9"/><rect x="352.4" y="245.9" width="0.9" height="0.9"/><rect x="345.7" y="250.4" width="0.9" height="0.9"/><rect x="355.7" y="251.8" width="0.9" height="0.9"/><rect x="361.4" y="248.4" width="0.9" height="0.9"/><rect x="352.8" y="239.2" width="0.9" height="0.9"/><rect x="352.3" y="242.6" width="0.9" height="0.9"/><rect x="355.9" y="242.5" width="0.9" height="0.9"/><rect x="363.1" y="242.5" width="0.9" height="0.9"/><rect x="352.1" y="249.9" width="0.9" height="0.9"/><rect x="354.0" y="238.6" width="0.9" height="0.9"/><rect x="357.2" y="244.0" width="0.9" height="0.9"/><rect x="345.8" y="241.0" width="0.9" height="0.9"/><rect x="357.7" y="246.6" width="0.9" height="0.9"/><rect x="351.8" y="256.5" width="0.9" height="0.9"/><rect x="357.2" y="241.7" width="0.9" height="0.9"/><rect x="355.8" y="244.4" width="0.9" height="0.9"/><rect x="343.3" y="256.0" width="0.9" height="0.9"/><rect x="352.6" y="243.5" width="0.9" height="0.9"/><rect x="349.6" y="250.2" width="0.9" height="0.9"/><rect x="354.2" y="254.1" width="0.9" height="0.9"/><rect x="360.1" y="253.7" width="0.9" height="0.9"/><rect x="353.1" y="247.0" width="0.9" height="0.9"/><rect x="350.7" y="244.1" width="0.9" height="0.9"/><rect x="340.6" y="241.9" width="0.9" height="0.9"/><rect x="346.7" y="241.5" width="0.9" height="0.9"/><rect x="363.4" y="246.4" width="0.9" height="0.9"/><rect x="363.5" y="249.6" width="0.9" height="0.9"/><rect x="361.1" y="250.3" width="0.9" height="0.9"/><rect x="349.3" y="249.3" width="0.9" height="0.9"/><rect x="351.5" y="242.2" width="0.9" height="0.9"/><rect x="363.2" y="256.5" width="0.9" height="0.9"/><rect x="346.5" y="254.2" width="0.9" height="0.9"/><rect x="360.4" y="240.5" width="0.9" height="0.9"/><rect x="356.1" y="247.0" width="0.9" height="0.9"/><rect x="356.9" y="243.1" width="0.9" height="0.9"/><rect x="344.1" y="245.2" width="0.9" height="0.9"/><rect x="360.6" y="249.2" width="0.9" height="0.9"/><rect x="359.1" y="250.8" width="0.9" height="0.9"/><rect x="346.4" y="244.8" width="0.9" height="0.9"/><rect x="356.6" y="250.3" width="0.9" height="0.9"/><rect x="355.2" y="247.7" width="0.9" height="0.9"/><rect x="355.0" y="256.1" width="0.9" height="0.9"/><rect x="343.0" y="241.4" width="0.9" height="0.9"/><rect x="355.7" y="254.1" width="0.9" height="0.9"/><rect x="357.6" y="248.5" width="0.9" height="0.9"/><rect x="361.8" y="246.1" width="0.9" height="0.9"/><rect x="347.4" y="244.5" width="0.9" height="0.9"/><rect x="356.6" y="243.5" width="0.9" height="0.9"/><rect x="348.9" y="243.1" width="0.9" height="0.9"/><rect x="342.4" y="239.6" width="0.9" height="0.9"/><rect x="353.3" y="243.1" width="0.9" height="0.9"/><rect x="354.3" y="252.4" width="0.9" height="0.9"/><rect x="356.3" y="244.8" width="0.9" height="0.9"/><rect x="345.0" y="239.3" width="0.9" height="0.9"/><rect x="356.9" y="240.4" width="0.9" height="0.9"/><rect x="357.3" y="239.3" width="0.9" height="0.9"/><rect x="355.0" y="244.6" width="0.9" height="0.9"/><rect x="361.7" y="242.9" width="0.9" height="0.9"/><rect x="351.1" y="246.3" width="0.9" height="0.9"/><rect x="354.4" y="253.9" width="0.9" height="0.9"/><rect x="352.0" y="242.2" width="0.9" height="0.9"/><rect x="351.5" y="247.5" width="0.9" height="0.9"/><rect x="355.8" y="248.7" width="0.9" height="0.9"/><rect x="368.2" y="244.8" width="0.9" height="0.9"/><rect x="344.7" y="245.8" width="0.9" height="0.9"/><rect x="354.1" y="237.2" width="0.9" height="0.9"/><rect x="357.5" y="252.3" width="0.9" height="0.9"/><rect x="362.0" y="237.0" width="0.9" height="0.9"/><rect x="364.6" y="249.8" width="0.9" height="0.9"/><rect x="351.2" y="247.7" width="0.9" height="0.9"/><rect x="365.7" y="243.2" width="0.9" height="0.9"/><rect x="353.9" y="242.0" width="0.9" height="0.9"/><rect x="362.9" y="233.6" width="0.9" height="0.9"/><rect x="364.9" y="239.9" width="0.9" height="0.9"/><rect x="361.1" y="236.4" width="0.9" height="0.9"/><rect x="346.8" y="241.8" width="0.9" height="0.9"/><rect x="360.4" y="236.4" width="0.9" height="0.9"/><rect x="358.6" y="241.6" width="0.9" height="0.9"/><rect x="363.6" y="243.4" width="0.9" height="0.9"/><rect x="357.7" y="244.1" width="0.9" height="0.9"/><rect x="367.8" y="243.1" width="0.9" height="0.9"/><rect x="353.8" y="255.5" width="0.9" height="0.9"/><rect x="354.6" y="248.6" width="0.9" height="0.9"/><rect x="348.3" y="246.1" width="0.9" height="0.9"/><rect x="349.0" y="237.0" width="0.9" height="0.9"/><rect x="343.1" y="251.0" width="0.9" height="0.9"/><rect x="357.3" y="237.0" width="0.9" height="0.9"/><rect x="368.0" y="241.3" width="0.9" height="0.9"/><rect x="351.2" y="246.3" width="0.9" height="0.9"/><rect x="345.2" y="236.4" width="0.9" height="0.9"/><rect x="348.3" y="251.3" width="0.9" height="0.9"/><rect x="361.3" y="236.6" width="0.9" height="0.9"/><rect x="363.3" y="245.2" width="0.9" height="0.9"/><rect x="357.9" y="245.3" width="0.9" height="0.9"/><rect x="357.2" y="239.7" width="0.9" height="0.9"/><rect x="347.0" y="241.3" width="0.9" height="0.9"/><rect x="351.2" y="248.3" width="0.9" height="0.9"/><rect x="344.6" y="253.4" width="0.9" height="0.9"/><rect x="349.1" y="241.9" width="0.9" height="0.9"/><rect x="359.4" y="247.3" width="0.9" height="0.9"/><rect x="351.4" y="239.3" width="0.9" height="0.9"/><rect x="346.3" y="236.5" width="0.9" height="0.9"/><rect x="362.8" y="250.7" width="0.9" height="0.9"/><rect x="368.4" y="247.6" width="0.9" height="0.9"/><rect x="356.6" y="249.0" width="0.9" height="0.9"/><rect x="361.3" y="243.6" width="0.9" height="0.9"/><rect x="356.7" y="256.4" width="0.9" height="0.9"/><rect x="341.0" y="237.6" width="0.9" height="0.9"/><rect x="346.6" y="249.0" width="0.9" height="0.9"/><rect x="363.1" y="243.2" width="0.9" height="0.9"/><rect x="359.2" y="244.7" width="0.9" height="0.9"/><rect x="356.3" y="242.1" width="0.9" height="0.9"/><rect x="353.8" y="245.0" width="0.9" height="0.9"/><rect x="362.7" y="256.8" width="0.9" height="0.9"/><rect x="354.0" y="250.1" width="0.9" height="0.9"/><rect x="362.2" y="249.1" width="0.9" height="0.9"/><rect x="360.2" y="240.0" width="0.9" height="0.9"/><rect x="340.9" y="253.8" width="0.9" height="0.9"/><rect x="363.3" y="240.0" width="0.9" height="0.9"/><rect x="363.9" y="248.5" width="0.9" height="0.9"/><rect x="346.4" y="251.2" width="0.9" height="0.9"/><rect x="348.8" y="241.1" width="0.9" height="0.9"/><rect x="342.1" y="243.9" width="0.9" height="0.9"/><rect x="361.8" y="241.4" width="0.9" height="0.9"/><rect x="368.2" y="248.7" width="0.9" height="0.9"/><rect x="349.9" y="238.6" width="0.9" height="0.9"/><rect x="341.4" y="248.0" width="0.9" height="0.9"/><rect x="364.0" y="239.4" width="0.9" height="0.9"/><rect x="354.0" y="243.5" width="0.9" height="0.9"/><rect x="352.0" y="247.7" width="0.9" height="0.9"/><rect x="370.1" y="241.6" width="0.9" height="0.9"/><rect x="360.6" y="250.8" width="0.9" height="0.9"/><rect x="351.8" y="244.2" width="0.9" height="0.9"/><rect x="343.7" y="250.7" width="0.9" height="0.9"/><rect x="349.9" y="241.5" width="0.9" height="0.9"/><rect x="354.5" y="240.5" width="0.9" height="0.9"/><rect x="346.0" y="243.4" width="0.9" height="0.9"/><rect x="365.5" y="243.9" width="0.9" height="0.9"/><rect x="358.1" y="237.2" width="0.9" height="0.9"/><rect x="350.9" y="236.8" width="0.9" height="0.9"/><rect x="353.2" y="248.2" width="0.9" height="0.9"/><rect x="340.7" y="240.3" width="0.9" height="0.9"/><rect x="356.0" y="240.1" width="0.9" height="0.9"/><rect x="360.1" y="250.1" width="0.9" height="0.9"/><rect x="357.4" y="242.7" width="0.9" height="0.9"/><rect x="353.6" y="241.6" width="0.9" height="0.9"/><rect x="353.0" y="246.7" width="0.9" height="0.9"/><rect x="351.7" y="250.2" width="0.9" height="0.9"/><rect x="356.6" y="249.4" width="0.9" height="0.9"/><rect x="359.0" y="243.7" width="0.9" height="0.9"/><rect x="350.3" y="250.3" width="0.9" height="0.9"/><rect x="358.8" y="247.7" width="0.9" height="0.9"/><rect x="347.8" y="248.4" width="0.9" height="0.9"/><rect x="360.1" y="244.0" width="0.9" height="0.9"/><rect x="359.0" y="256.5" width="0.9" height="0.9"/><rect x="345.0" y="237.8" width="0.9" height="0.9"/><rect x="352.2" y="247.9" width="0.9" height="0.9"/><rect x="354.4" y="238.8" width="0.9" height="0.9"/><rect x="342.9" y="242.0" width="0.9" height="0.9"/><rect x="354.1" y="240.6" width="0.9" height="0.9"/><rect x="342.4" y="254.3" width="0.9" height="0.9"/><rect x="347.5" y="244.2" width="0.9" height="0.9"/><rect x="349.8" y="241.9" width="0.9" height="0.9"/><rect x="354.3" y="243.4" width="0.9" height="0.9"/><rect x="358.8" y="238.7" width="0.9" height="0.9"/><rect x="342.5" y="255.4" width="0.9" height="0.9"/><rect x="353.4" y="249.1" width="0.9" height="0.9"/><rect x="363.1" y="247.9" width="0.9" height="0.9"/><rect x="354.3" y="236.7" width="0.9" height="0.9"/><rect x="341.6" y="250.2" width="0.9" height="0.9"/><rect x="359.2" y="248.0" width="0.9" height="0.9"/><rect x="341.2" y="233.6" width="0.9" height="0.9"/><rect x="345.8" y="238.7" width="0.9" height="0.9"/><rect x="355.2" y="239.6" width="0.9" height="0.9"/><rect x="366.3" y="241.7" width="0.9" height="0.9"/><rect x="349.6" y="249.6" width="0.9" height="0.9"/><rect x="356.5" y="240.2" width="0.9" height="0.9"/><rect x="360.4" y="255.2" width="0.9" height="0.9"/><rect x="344.5" y="243.7" width="0.9" height="0.9"/><rect x="345.6" y="234.6" width="0.9" height="0.9"/></g>
<g fill="#3a3aff" opacity="0.5"><rect x="337.1" y="254.8" width="0.9" height="0.9"/><rect x="338.6" y="250.7" width="0.9" height="0.9"/><rect x="326.7" y="245.5" width="0.9" height="0.9"/><rect x="330.3" y="234.3" width="0.9" height="0.9"/><rect x="328.3" y="253.1" width="0.9" height="0.9"/><rect x="332.3" y="259.7" width="0.9" height="0.9"/><rect x="334.9" y="232.0" width="0.9" height="0.9"/><rect x="337.0" y="256.6" width="0.9" height="0.9"/><rect x="333.5" y="232.9" width="0.9" height="0.9"/><rect x="338.7" y="237.2" width="0.9" height="0.9"/><rect x="333.0" y="231.7" width="0.9" height="0.9"/><rect x="329.3" y="234.2" width="0.9" height="0.9"/><rect x="337.6" y="255.7" width="0.9" height="0.9"/><rect x="331.5" y="233.0" width="0.9" height="0.9"/><rect x="332.5" y="256.7" width="0.9" height="0.9"/><rect x="328.1" y="237.2" width="0.9" height="0.9"/><rect x="332.5" y="257.3" width="0.9" height="0.9"/><rect x="334.2" y="256.8" width="0.9" height="0.9"/><rect x="330.2" y="232.6" width="0.9" height="0.9"/><rect x="335.1" y="234.1" width="0.9" height="0.9"/><rect x="331.7" y="235.1" width="0.9" height="0.9"/><rect x="336.3" y="235.4" width="0.9" height="0.9"/><rect x="339.5" y="246.0" width="0.9" height="0.9"/><rect x="336.9" y="254.8" width="0.9" height="0.9"/><rect x="338.8" y="250.3" width="0.9" height="0.9"/><rect x="327.1" y="241.0" width="0.9" height="0.9"/><rect x="339.7" y="249.2" width="0.9" height="0.9"/><rect x="337.5" y="253.2" width="0.9" height="0.9"/><rect x="329.4" y="236.8" width="0.9" height="0.9"/><rect x="330.3" y="257.1" width="0.9" height="0.9"/><rect x="334.6" y="259.3" width="0.9" height="0.9"/><rect x="335.0" y="259.3" width="0.9" height="0.9"/><rect x="335.5" y="233.6" width="0.9" height="0.9"/><rect x="339.7" y="248.3" width="0.9" height="0.9"/><rect x="339.2" y="248.0" width="0.9" height="0.9"/><rect x="328.7" y="250.8" width="0.9" height="0.9"/><rect x="328.9" y="235.7" width="0.9" height="0.9"/><rect x="328.3" y="239.4" width="0.9" height="0.9"/><rect x="327.2" y="244.7" width="0.9" height="0.9"/><rect x="334.3" y="259.8" width="0.9" height="0.9"/><rect x="339.8" y="245.3" width="0.9" height="0.9"/><rect x="338.8" y="242.8" width="0.9" height="0.9"/><rect x="338.5" y="244.7" width="0.9" height="0.9"/><rect x="328.0" y="247.3" width="0.9" height="0.9"/><rect x="327.2" y="249.6" width="0.9" height="0.9"/><rect x="331.8" y="233.5" width="0.9" height="0.9"/><rect x="330.3" y="255.4" width="0.9" height="0.9"/><rect x="328.7" y="252.6" width="0.9" height="0.9"/><rect x="335.5" y="258.6" width="0.9" height="0.9"/><rect x="327.4" y="244.4" width="0.9" height="0.9"/><rect x="335.4" y="258.6" width="0.9" height="0.9"/><rect x="335.1" y="256.9" width="0.9" height="0.9"/><rect x="327.4" y="240.7" width="0.9" height="0.9"/><rect x="339.7" y="243.4" width="0.9" height="0.9"/><rect x="339.7" y="241.1" width="0.9" height="0.9"/><rect x="332.2" y="232.3" width="0.9" height="0.9"/><rect x="338.4" y="250.2" width="0.9" height="0.9"/><rect x="339.9" y="246.9" width="0.9" height="0.9"/><rect x="332.2" y="232.6" width="0.9" height="0.9"/><rect x="332.8" y="257.9" width="0.9" height="0.9"/></g>
<g filter="url(#bl)"><ellipse cx="333.30" cy="245.70" rx="6.80" ry="13.50" fill="#3030ff" opacity="0.45"/><ellipse cx="333.30" cy="245.70" rx="5.90" ry="12.70" fill="#0000ff" opacity="1"/><ellipse cx="333.40" cy="245.60" rx="5.30" ry="12.00" fill="#0070ff" opacity="1"/><ellipse cx="333.45" cy="245.50" rx="4.35" ry="10.70" fill="#00e0ff" opacity="1"/><ellipse cx="333.30" cy="246.00" rx="3.60" ry="9.30" fill="#00ffa0" opacity="1"/><ellipse cx="333.15" cy="246.60" rx="2.95" ry="7.90" fill="#30ff30" opacity="1"/><ellipse cx="333.10" cy="247.40" rx="2.20" ry="5.90" fill="#a8ff00" opacity="1"/><ellipse cx="333.05" cy="248.00" rx="1.65" ry="4.50" fill="#ffff00" opacity="1"/><ellipse cx="332.95" cy="249.00" rx="1.45" ry="3.70" fill="#ff9000" opacity="1"/><ellipse cx="332.70" cy="249.25" rx="1.00" ry="1.75" fill="#ff0a00" opacity="1"/></g>
<rect x="70.40" y="231.4" width="77.70" height="34.00" fill="none" stroke="#222" stroke-width="1.0"/>
<rect x="203.40" y="231.4" width="78.90" height="34.00" fill="none" stroke="#222" stroke-width="1.0"/>
<rect x="339.40" y="231.4" width="77.90" height="34.00" fill="none" stroke="#222" stroke-width="1.0"/>
<text x="11.00" y="320.50" font-size="12.5" text-anchor="start" font-weight="bold" fill="#000" >C</text>
<text x="104.95" y="327.20" font-size="8.9" text-anchor="middle" font-weight="normal" fill="#000" >LD Liver tetramer</text>
<rect x="41.50" y="375.40" width="31.90" height="78.20" fill="#c3202f" />
<rect x="72.70" y="418.30" width="31.70" height="35.30" fill="#075384" />
<rect x="103.70" y="413.70" width="31.60" height="39.90" fill="#075384" />
<rect x="134.60" y="361.70" width="31.70" height="91.90" fill="#3bb24e" />
<line x1="57.00" y1="367.50" x2="57.00" y2="375.40" stroke="#000" stroke-width="1.5" />
<line x1="49.50" y1="367.50" x2="64.50" y2="367.50" stroke="#000" stroke-width="1.5" />
<line x1="88.30" y1="409.80" x2="88.30" y2="418.30" stroke="#000" stroke-width="1.5" />
<line x1="80.80" y1="409.80" x2="95.80" y2="409.80" stroke="#000" stroke-width="1.5" />
<line x1="119.80" y1="400.90" x2="119.80" y2="413.70" stroke="#000" stroke-width="1.5" />
<line x1="112.30" y1="400.90" x2="127.30" y2="400.90" stroke="#000" stroke-width="1.5" />
<line x1="150.80" y1="338.40" x2="150.80" y2="361.70" stroke="#000" stroke-width="1.5" />
<line x1="143.30" y1="338.40" x2="158.30" y2="338.40" stroke="#000" stroke-width="1.5" />
<line x1="41.50" y1="329.40" x2="41.50" y2="454.50" stroke="#000" stroke-width="1.8" />
<line x1="40.60" y1="453.60" x2="166.60" y2="453.60" stroke="#000" stroke-width="1.8" />
<line x1="57.00" y1="453.60" x2="57.00" y2="457.60" stroke="#000" stroke-width="1.3" />
<line x1="88.20" y1="453.60" x2="88.20" y2="457.60" stroke="#000" stroke-width="1.3" />
<line x1="119.50" y1="453.60" x2="119.50" y2="457.60" stroke="#000" stroke-width="1.3" />
<line x1="150.60" y1="453.60" x2="150.60" y2="457.60" stroke="#000" stroke-width="1.3" />
<text id="cx0" transform="translate(62.00,465.20) rotate(-45)" font-size="8.6" text-anchor="end">rIgG</text>
<text id="cx1" transform="translate(92.10,467.40) rotate(-45)" font-size="8.6" text-anchor="end">anti-Ly49G2</text>
<text id="cx2" transform="translate(124.80,466.40) rotate(-45)" font-size="8.6" text-anchor="end">anti-Ly49A</text>
<text id="cx3" transform="translate(153.80,466.10) rotate(-45)" font-size="8.6" text-anchor="end">anti-Ly49C/I</text>
<line x1="37.50" y1="453.60" x2="41.50" y2="453.60" stroke="#000" stroke-width="1.3" />
<text x="34.30" y="456.50" font-size="8" text-anchor="end" font-weight="normal" fill="#000" >0</text>
<line x1="37.50" y1="412.20" x2="41.50" y2="412.20" stroke="#000" stroke-width="1.3" />
<text x="34.30" y="415.10" font-size="8" text-anchor="end" font-weight="normal" fill="#000" >2</text>
<line x1="37.50" y1="370.80" x2="41.50" y2="370.80" stroke="#000" stroke-width="1.3" />
<text x="34.30" y="373.70" font-size="8" text-anchor="end" font-weight="normal" fill="#000" >4</text>
<line x1="37.50" y1="329.40" x2="41.50" y2="329.40" stroke="#000" stroke-width="1.3" />
<text x="34.30" y="332.30" font-size="8" text-anchor="end" font-weight="normal" fill="#000" >6</text>
<text id="cyl" transform="translate(20.60,392.10) rotate(-90) scale(0.696,1)" font-size="11" font-weight="bold" style="stroke-width:0.1" text-anchor="middle">M45+ Tet+ CD8+ T cells (x10<tspan font-size="5.5" dy="-3.6" style="stroke-width:0">4</tspan><tspan dy="3.6">)</tspan></text>
<line x1="65.10" y1="356.80" x2="116.60" y2="356.80" stroke="#000" stroke-width="1.3" />
<line x1="91.00" y1="356.80" x2="91.00" y2="360.80" stroke="#000" stroke-width="1.3" />
<line x1="116.00" y1="356.80" x2="116.00" y2="360.80" stroke="#000" stroke-width="1.3" />
<text x="91.30" y="355.40" font-size="5.8" text-anchor="middle" font-weight="normal" fill="#000" letter-spacing="0.5">**</text>
<text x="115.80" y="355.40" font-size="5.8" text-anchor="middle" font-weight="normal" fill="#000" >*</text>
<text x="184.80" y="320.30" font-size="12.5" text-anchor="start" font-weight="bold" fill="#000" >D</text>
<text x="291.45" y="327.00" font-size="8.9" text-anchor="middle" font-weight="normal" fill="#000" >HD Liver tetramer</text>
<rect x="221.70" y="367.30" width="31.70" height="86.20" fill="#c3202f" />
<rect x="252.70" y="364.60" width="31.70" height="88.90" fill="#075384" />
<rect x="283.70" y="369.50" width="31.70" height="84.00" fill="#075384" />
<rect x="314.70" y="372.70" width="31.70" height="80.80" fill="#3bb24e" />
<line x1="237.10" y1="361.40" x2="237.10" y2="367.30" stroke="#000" stroke-width="1.5" />
<line x1="229.60" y1="361.40" x2="244.60" y2="361.40" stroke="#000" stroke-width="1.5" />
<line x1="268.30" y1="351.70" x2="268.30" y2="364.60" stroke="#000" stroke-width="1.5" />
<line x1="260.80" y1="351.70" x2="275.80" y2="351.70" stroke="#000" stroke-width="1.5" />
<line x1="299.80" y1="357.90" x2="299.80" y2="369.50" stroke="#000" stroke-width="1.5" />
<line x1="292.30" y1="357.90" x2="307.30" y2="357.90" stroke="#000" stroke-width="1.5" />
<line x1="331.00" y1="362.50" x2="331.00" y2="372.70" stroke="#000" stroke-width="1.5" />
<line x1="323.50" y1="362.50" x2="338.50" y2="362.50" stroke="#000" stroke-width="1.5" />
<line x1="221.70" y1="329.10" x2="221.70" y2="454.40" stroke="#000" stroke-width="1.8" />
<line x1="220.80" y1="453.50" x2="346.90" y2="453.50" stroke="#000" stroke-width="1.8" />
<line x1="237.00" y1="453.50" x2="237.00" y2="457.50" stroke="#000" stroke-width="1.3" />
<line x1="268.10" y1="453.50" x2="268.10" y2="457.50" stroke="#000" stroke-width="1.3" />
<line x1="299.50" y1="453.50" x2="299.50" y2="457.50" stroke="#000" stroke-width="1.3" />
<line x1="330.70" y1="453.50" x2="330.70" y2="457.50" stroke="#000" stroke-width="1.3" />
<text id="dx0" transform="translate(243.30,464.70) rotate(-45)" font-size="8.6" text-anchor="end">rIgG</text>
<text id="dx1" transform="translate(273.60,465.70) rotate(-45)" font-size="8.6" text-anchor="end">anti-Ly49G2</text>
<text id="dx2" transform="translate(306.20,464.30) rotate(-45)" font-size="8.6" text-anchor="end">anti-Ly49A</text>
<text id="dx3" transform="translate(336.70,466.00) rotate(-45)" font-size="8.6" text-anchor="end">anti-Ly49C/I</text>
<line x1="217.70" y1="453.50" x2="221.70" y2="453.50" stroke="#000" stroke-width="1.3" />
<text x="214.80" y="456.40" font-size="8" text-anchor="end" font-weight="normal" fill="#000" >0</text>
<line x1="217.70" y1="422.40" x2="221.70" y2="422.40" stroke="#000" stroke-width="1.3" />
<text x="214.80" y="425.30" font-size="8" text-anchor="end" font-weight="normal" fill="#000" >20</text>
<line x1="217.70" y1="391.30" x2="221.70" y2="391.30" stroke="#000" stroke-width="1.3" />
<text x="214.80" y="394.20" font-size="8" text-anchor="end" font-weight="normal" fill="#000" >40</text>
<line x1="217.70" y1="360.20" x2="221.70" y2="360.20" stroke="#000" stroke-width="1.3" />
<text x="214.80" y="363.10" font-size="8" text-anchor="end" font-weight="normal" fill="#000" >60</text>
<line x1="217.70" y1="329.10" x2="221.70" y2="329.10" stroke="#000" stroke-width="1.3" />
<text x="214.80" y="332.00" font-size="8" text-anchor="end" font-weight="normal" fill="#000" >80</text>
<text id="dyl" transform="translate(195.10,392.10) rotate(-90) scale(0.696,1)" font-size="11" font-weight="bold" style="stroke-width:0.1" text-anchor="middle">M45+ Tet+ CD8+ T cells (x10<tspan font-size="5.5" dy="-3.6" style="stroke-width:0">4</tspan><tspan dy="3.6">)</tspan></text>
<text x="12.00" y="528.00" font-size="12.5" text-anchor="start" font-weight="bold" fill="#000" >E</text>
<text x="98.05" y="527.40" font-size="10.4" text-anchor="middle" font-weight="normal" fill="#000" >LD Liver viral titer</text>
<rect x="44.80" y="590.00" width="30.90" height="87.30" fill="#c3202f" />
<rect x="75.00" y="565.30" width="30.30" height="112.00" fill="#075384" />
<rect x="104.60" y="569.80" width="29.90" height="107.50" fill="#075384" />
<rect x="133.80" y="613.40" width="30.20" height="63.90" fill="#3bb24e" />
<line x1="60.20" y1="587.50" x2="60.20" y2="590.00" stroke="#000" stroke-width="1.5" />
<line x1="52.90" y1="587.50" x2="67.50" y2="587.50" stroke="#000" stroke-width="1.5" />
<line x1="89.30" y1="564.50" x2="89.30" y2="565.30" stroke="#000" stroke-width="1.5" />
<line x1="81.80" y1="564.50" x2="96.80" y2="564.50" stroke="#000" stroke-width="1.5" />
<line x1="118.90" y1="565.60" x2="118.90" y2="569.80" stroke="#000" stroke-width="1.5" />
<line x1="111.40" y1="565.60" x2="126.40" y2="565.60" stroke="#000" stroke-width="1.5" />
<line x1="149.00" y1="608.00" x2="149.00" y2="613.40" stroke="#000" stroke-width="1.5" />
<line x1="141.50" y1="608.00" x2="156.50" y2="608.00" stroke="#000" stroke-width="1.5" />
<line x1="44.80" y1="552.90" x2="44.80" y2="678.20" stroke="#000" stroke-width="1.8" />
<line x1="43.90" y1="677.30" x2="169.20" y2="677.30" stroke="#000" stroke-width="1.8" />
<line x1="59.60" y1="677.30" x2="59.60" y2="681.30" stroke="#000" stroke-width="1.3" />
<line x1="89.30" y1="677.30" x2="89.30" y2="681.30" stroke="#000" stroke-width="1.3" />
<line x1="118.90" y1="677.30" x2="118.90" y2="681.30" stroke="#000" stroke-width="1.3" />
<line x1="149.00" y1="677.30" x2="149.00" y2="681.30" stroke="#000" stroke-width="1.3" />
<text id="ex0" transform="translate(64.10,688.20) rotate(-45)" font-size="8.6" text-anchor="end">rIgG</text>
<text id="ex1" transform="translate(93.60,689.50) rotate(-45)" font-size="8.6" text-anchor="end">anti-Ly49G2</text>
<text id="ex2" transform="translate(123.00,687.90) rotate(-45)" font-size="8.6" text-anchor="end">anti-Ly49A</text>
<text id="ex3" transform="translate(150.90,688.80) rotate(-45)" font-size="8.6" text-anchor="end">anti-Ly49C/I</text>
<line x1="40.40" y1="677.30" x2="44.80" y2="677.30" stroke="#000" stroke-width="1.3" />
<line x1="42.30" y1="659.33" x2="44.80" y2="659.33" stroke="#000" stroke-width="1.1" />
<line x1="42.30" y1="648.82" x2="44.80" y2="648.82" stroke="#000" stroke-width="1.1" />
<line x1="42.30" y1="641.36" x2="44.80" y2="641.36" stroke="#000" stroke-width="1.1" />
<line x1="42.30" y1="635.57" x2="44.80" y2="635.57" stroke="#000" stroke-width="1.1" />
<line x1="42.30" y1="630.84" x2="44.80" y2="630.84" stroke="#000" stroke-width="1.1" />
<line x1="42.30" y1="626.85" x2="44.80" y2="626.85" stroke="#000" stroke-width="1.1" />
<line x1="42.30" y1="623.39" x2="44.80" y2="623.39" stroke="#000" stroke-width="1.1" />
<line x1="42.30" y1="620.33" x2="44.80" y2="620.33" stroke="#000" stroke-width="1.1" />
<line x1="40.40" y1="617.60" x2="44.80" y2="617.60" stroke="#000" stroke-width="1.3" />
<line x1="42.30" y1="599.63" x2="44.80" y2="599.63" stroke="#000" stroke-width="1.1" />
<line x1="42.30" y1="589.12" x2="44.80" y2="589.12" stroke="#000" stroke-width="1.1" />
<line x1="42.30" y1="581.66" x2="44.80" y2="581.66" stroke="#000" stroke-width="1.1" />
<line x1="42.30" y1="575.87" x2="44.80" y2="575.87" stroke="#000" stroke-width="1.1" />
<line x1="42.30" y1="571.14" x2="44.80" y2="571.14" stroke="#000" stroke-width="1.1" />
<line x1="42.30" y1="567.15" x2="44.80" y2="567.15" stroke="#000" stroke-width="1.1" />
<line x1="42.30" y1="563.69" x2="44.80" y2="563.69" stroke="#000" stroke-width="1.1" />
<line x1="42.30" y1="560.63" x2="44.80" y2="560.63" stroke="#000" stroke-width="1.1" />
<line x1="40.40" y1="677.30" x2="44.80" y2="677.30" stroke="#000" stroke-width="1.3" />
<text x="34.60" y="679.90" font-size="9" text-anchor="end" font-weight="normal" fill="#000" >10</text>
<text x="35.00" y="676.10" font-size="4.6" text-anchor="start" font-weight="normal" fill="#000" style="stroke-width:0.1">2</text>
<line x1="40.40" y1="617.60" x2="44.80" y2="617.60" stroke="#000" stroke-width="1.3" />
<text x="34.60" y="620.20" font-size="9" text-anchor="end" font-weight="normal" fill="#000" >10</text>
<text x="35.00" y="616.40" font-size="4.6" text-anchor="start" font-weight="normal" fill="#000" style="stroke-width:0.1">3</text>
<line x1="40.40" y1="557.90" x2="44.80" y2="557.90" stroke="#000" stroke-width="1.3" />
<text x="34.60" y="560.50" font-size="9" text-anchor="end" font-weight="normal" fill="#000" >10</text>
<text x="35.00" y="556.70" font-size="4.6" text-anchor="start" font-weight="normal" fill="#000" style="stroke-width:0.1">4</text>
<text id="eyl" transform="translate(18.50,619.35) rotate(-90) scale(0.673,1)" font-size="11" font-weight="bold" style="stroke-width:0.1" text-anchor="middle">IE1 gene copy #/100mg tissue</text>
<line x1="66.90" y1="551.00" x2="116.20" y2="551.00" stroke="#000" stroke-width="1.3" />
<line x1="91.20" y1="551.00" x2="91.20" y2="554.30" stroke="#000" stroke-width="1.3" />
<line x1="115.70" y1="551.00" x2="115.70" y2="554.30" stroke="#000" stroke-width="1.3" />
<text x="92.20" y="549.30" font-size="5.8" text-anchor="middle" font-weight="normal" fill="#000" letter-spacing="0.5">**</text>
<text x="115.40" y="549.30" font-size="5.8" text-anchor="middle" font-weight="normal" fill="#000" >*</text>
<line x1="92.00" y1="536.80" x2="141.30" y2="536.80" stroke="#000" stroke-width="1.3" />
<line x1="92.00" y1="536.80" x2="92.00" y2="540.30" stroke="#000" stroke-width="1.3" />
<line x1="115.40" y1="536.80" x2="115.40" y2="540.30" stroke="#000" stroke-width="1.3" />
<text x="93.10" y="535.60" font-size="5.8" text-anchor="middle" font-weight="normal" fill="#000" letter-spacing="0.5">***</text>
<text x="115.60" y="535.60" font-size="5.8" text-anchor="middle" font-weight="normal" fill="#000" letter-spacing="0.5">**</text>
<text x="187.30" y="528.00" font-size="12.5" text-anchor="start" font-weight="bold" fill="#000" >F</text>
<text x="283.85" y="527.40" font-size="10.4" text-anchor="middle" font-weight="normal" fill="#000" >HD Liver viral titer</text>
<rect x="221.60" y="572.10" width="31.10" height="105.30" fill="#c3202f" />
<rect x="252.00" y="570.60" width="30.50" height="106.80" fill="#075384" />
<rect x="281.80" y="567.80" width="30.70" height="109.60" fill="#075384" />
<rect x="311.80" y="567.10" width="30.40" height="110.30" fill="#3bb24e" />
<line x1="236.90" y1="570.20" x2="236.90" y2="572.10" stroke="#000" stroke-width="1.5" />
<line x1="229.60" y1="570.20" x2="244.20" y2="570.20" stroke="#000" stroke-width="1.5" />
<line x1="267.00" y1="570.00" x2="267.00" y2="570.60" stroke="#000" stroke-width="1.5" />
<line x1="259.70" y1="570.00" x2="274.30" y2="570.00" stroke="#000" stroke-width="1.5" />
<line x1="296.90" y1="567.40" x2="296.90" y2="567.80" stroke="#000" stroke-width="1.5" />
<line x1="289.60" y1="567.40" x2="304.20" y2="567.40" stroke="#000" stroke-width="1.5" />
<line x1="326.30" y1="562.90" x2="326.30" y2="567.10" stroke="#000" stroke-width="1.5" />
<line x1="318.80" y1="562.90" x2="333.80" y2="562.90" stroke="#000" stroke-width="1.5" />
<line x1="221.60" y1="558.00" x2="221.60" y2="678.30" stroke="#000" stroke-width="1.8" />
<line x1="220.70" y1="677.40" x2="342.40" y2="677.40" stroke="#000" stroke-width="1.8" />
<line x1="236.90" y1="677.40" x2="236.90" y2="681.40" stroke="#000" stroke-width="1.3" />
<line x1="267.10" y1="677.40" x2="267.10" y2="681.40" stroke="#000" stroke-width="1.3" />
<line x1="296.90" y1="677.40" x2="296.90" y2="681.40" stroke="#000" stroke-width="1.3" />
<line x1="326.40" y1="677.40" x2="326.40" y2="681.40" stroke="#000" stroke-width="1.3" />
<text id="fx0" transform="translate(241.90,688.20) rotate(-45)" font-size="8.6" text-anchor="end">rIgG</text>
<text id="fx1" transform="translate(271.10,689.50) rotate(-45)" font-size="8.6" text-anchor="end">anti-Ly49G2</text>
<text id="fx2" transform="translate(302.80,688.20) rotate(-45)" font-size="8.6" text-anchor="end">anti-Ly49A</text>
<text id="fx3" transform="translate(330.10,689.10) rotate(-45)" font-size="8.6" text-anchor="end">anti-Ly49C/I</text>
<line x1="217.40" y1="677.40" x2="221.60" y2="677.40" stroke="#000" stroke-width="1.3" />
<line x1="219.20" y1="672.27" x2="221.60" y2="672.27" stroke="#000" stroke-width="1.1" />
<line x1="219.20" y1="669.28" x2="221.60" y2="669.28" stroke="#000" stroke-width="1.1" />
<line x1="219.20" y1="667.15" x2="221.60" y2="667.15" stroke="#000" stroke-width="1.1" />
<line x1="219.20" y1="665.50" x2="221.60" y2="665.50" stroke="#000" stroke-width="1.1" />
<line x1="219.20" y1="664.15" x2="221.60" y2="664.15" stroke="#000" stroke-width="1.1" />
<line x1="219.20" y1="663.01" x2="221.60" y2="663.01" stroke="#000" stroke-width="1.1" />
<line x1="219.20" y1="662.02" x2="221.60" y2="662.02" stroke="#000" stroke-width="1.1" />
<line x1="219.20" y1="661.15" x2="221.60" y2="661.15" stroke="#000" stroke-width="1.1" />
<line x1="217.40" y1="660.37" x2="221.60" y2="660.37" stroke="#000" stroke-width="1.3" />
<line x1="219.20" y1="655.25" x2="221.60" y2="655.25" stroke="#000" stroke-width="1.1" />
<line x1="219.20" y1="652.25" x2="221.60" y2="652.25" stroke="#000" stroke-width="1.1" />
<line x1="219.20" y1="650.12" x2="221.60" y2="650.12" stroke="#000" stroke-width="1.1" />
<line x1="219.20" y1="648.47" x2="221.60" y2="648.47" stroke="#000" stroke-width="1.1" />
<line x1="219.20" y1="647.12" x2="221.60" y2="647.12" stroke="#000" stroke-width="1.1" />
<line x1="219.20" y1="645.98" x2="221.60" y2="645.98" stroke="#000" stroke-width="1.1" />
<line x1="219.20" y1="644.99" x2="221.60" y2="644.99" stroke="#000" stroke-width="1.1" />
<line x1="219.20" y1="644.12" x2="221.60" y2="644.12" stroke="#000" stroke-width="1.1" />
<line x1="217.40" y1="643.34" x2="221.60" y2="643.34" stroke="#000" stroke-width="1.3" />
<line x1="219.20" y1="638.22" x2="221.60" y2="638.22" stroke="#000" stroke-width="1.1" />
<line x1="219.20" y1="635.22" x2="221.60" y2="635.22" stroke="#000" stroke-width="1.1" />
<line x1="219.20" y1="633.09" x2="221.60" y2="633.09" stroke="#000" stroke-width="1.1" />
<line x1="219.20" y1="631.44" x2="221.60" y2="631.44" stroke="#000" stroke-width="1.1" />
<line x1="219.20" y1="630.09" x2="221.60" y2="630.09" stroke="#000" stroke-width="1.1" />
<line x1="219.20" y1="628.95" x2="221.60" y2="628.95" stroke="#000" stroke-width="1.1" />
<line x1="219.20" y1="627.96" x2="221.60" y2="627.96" stroke="#000" stroke-width="1.1" />
<line x1="219.20" y1="627.09" x2="221.60" y2="627.09" stroke="#000" stroke-width="1.1" />
<line x1="217.40" y1="626.31" x2="221.60" y2="626.31" stroke="#000" stroke-width="1.3" />
<line x1="219.20" y1="621.19" x2="221.60" y2="621.19" stroke="#000" stroke-width="1.1" />
<line x1="219.20" y1="618.19" x2="221.60" y2="618.19" stroke="#000" stroke-width="1.1" />
<line x1="219.20" y1="616.06" x2="221.60" y2="616.06" stroke="#000" stroke-width="1.1" />
<line x1="219.20" y1="614.41" x2="221.60" y2="614.41" stroke="#000" stroke-width="1.1" />
<line x1="219.20" y1="613.06" x2="221.60" y2="613.06" stroke="#000" stroke-width="1.1" />
<line x1="219.20" y1="611.92" x2="221.60" y2="611.92" stroke="#000" stroke-width="1.1" />
<line x1="219.20" y1="610.94" x2="221.60" y2="610.94" stroke="#000" stroke-width="1.1" />
<line x1="219.20" y1="610.06" x2="221.60" y2="610.06" stroke="#000" stroke-width="1.1" />
<line x1="217.40" y1="609.29" x2="221.60" y2="609.29" stroke="#000" stroke-width="1.3" />
<line x1="219.20" y1="604.16" x2="221.60" y2="604.16" stroke="#000" stroke-width="1.1" />
<line x1="219.20" y1="601.16" x2="221.60" y2="601.16" stroke="#000" stroke-width="1.1" />
<line x1="219.20" y1="599.03" x2="221.60" y2="599.03" stroke="#000" stroke-width="1.1" />
<line x1="219.20" y1="597.38" x2="221.60" y2="597.38" stroke="#000" stroke-width="1.1" />
<line x1="219.20" y1="596.03" x2="221.60" y2="596.03" stroke="#000" stroke-width="1.1" />
<line x1="219.20" y1="594.89" x2="221.60" y2="594.89" stroke="#000" stroke-width="1.1" />
<line x1="219.20" y1="593.91" x2="221.60" y2="593.91" stroke="#000" stroke-width="1.1" />
<line x1="219.20" y1="593.04" x2="221.60" y2="593.04" stroke="#000" stroke-width="1.1" />
<line x1="217.40" y1="592.26" x2="221.60" y2="592.26" stroke="#000" stroke-width="1.3" />
<line x1="219.20" y1="587.13" x2="221.60" y2="587.13" stroke="#000" stroke-width="1.1" />
<line x1="219.20" y1="584.13" x2="221.60" y2="584.13" stroke="#000" stroke-width="1.1" />
<line x1="219.20" y1="582.00" x2="221.60" y2="582.00" stroke="#000" stroke-width="1.1" />
<line x1="219.20" y1="580.35" x2="221.60" y2="580.35" stroke="#000" stroke-width="1.1" />
<line x1="219.20" y1="579.01" x2="221.60" y2="579.01" stroke="#000" stroke-width="1.1" />
<line x1="219.20" y1="577.87" x2="221.60" y2="577.87" stroke="#000" stroke-width="1.1" />
<line x1="219.20" y1="576.88" x2="221.60" y2="576.88" stroke="#000" stroke-width="1.1" />
<line x1="219.20" y1="576.01" x2="221.60" y2="576.01" stroke="#000" stroke-width="1.1" />
<line x1="217.40" y1="575.23" x2="221.60" y2="575.23" stroke="#000" stroke-width="1.3" />
<line x1="219.20" y1="570.10" x2="221.60" y2="570.10" stroke="#000" stroke-width="1.1" />
<line x1="219.20" y1="567.10" x2="221.60" y2="567.10" stroke="#000" stroke-width="1.1" />
<line x1="219.20" y1="564.98" x2="221.60" y2="564.98" stroke="#000" stroke-width="1.1" />
<line x1="219.20" y1="563.33" x2="221.60" y2="563.33" stroke="#000" stroke-width="1.1" />
<line x1="219.20" y1="561.98" x2="221.60" y2="561.98" stroke="#000" stroke-width="1.1" />
<line x1="219.20" y1="560.84" x2="221.60" y2="560.84" stroke="#000" stroke-width="1.1" />
<line x1="219.20" y1="559.85" x2="221.60" y2="559.85" stroke="#000" stroke-width="1.1" />
<line x1="219.20" y1="558.98" x2="221.60" y2="558.98" stroke="#000" stroke-width="1.1" />
<line x1="217.40" y1="677.40" x2="221.60" y2="677.40" stroke="#000" stroke-width="1.3" />
<text x="211.30" y="680.00" font-size="9" text-anchor="end" font-weight="normal" fill="#000" >10</text>
<text x="211.70" y="676.20" font-size="4.6" text-anchor="start" font-weight="normal" fill="#000" style="stroke-width:0.1">0</text>
<line x1="217.40" y1="660.37" x2="221.60" y2="660.37" stroke="#000" stroke-width="1.3" />
<text x="211.30" y="662.97" font-size="9" text-anchor="end" font-weight="normal" fill="#000" >10</text>
<text x="211.70" y="659.17" font-size="4.6" text-anchor="start" font-weight="normal" fill="#000" style="stroke-width:0.1">1</text>
<line x1="217.40" y1="643.34" x2="221.60" y2="643.34" stroke="#000" stroke-width="1.3" />
<text x="211.30" y="645.94" font-size="9" text-anchor="end" font-weight="normal" fill="#000" >10</text>
<text x="211.70" y="642.14" font-size="4.6" text-anchor="start" font-weight="normal" fill="#000" style="stroke-width:0.1">2</text>
<line x1="217.40" y1="626.31" x2="221.60" y2="626.31" stroke="#000" stroke-width="1.3" />
<text x="211.30" y="628.91" font-size="9" text-anchor="end" font-weight="normal" fill="#000" >10</text>
<text x="211.70" y="625.11" font-size="4.6" text-anchor="start" font-weight="normal" fill="#000" style="stroke-width:0.1">3</text>
<line x1="217.40" y1="609.29" x2="221.60" y2="609.29" stroke="#000" stroke-width="1.3" />
<text x="211.30" y="611.89" font-size="9" text-anchor="end" font-weight="normal" fill="#000" >10</text>
<text x="211.70" y="608.09" font-size="4.6" text-anchor="start" font-weight="normal" fill="#000" style="stroke-width:0.1">4</text>
<line x1="217.40" y1="592.26" x2="221.60" y2="592.26" stroke="#000" stroke-width="1.3" />
<text x="211.30" y="594.86" font-size="9" text-anchor="end" font-weight="normal" fill="#000" >10</text>
<text x="211.70" y="591.06" font-size="4.6" text-anchor="start" font-weight="normal" fill="#000" style="stroke-width:0.1">5</text>
<line x1="217.40" y1="575.23" x2="221.60" y2="575.23" stroke="#000" stroke-width="1.3" />
<text x="211.30" y="577.83" font-size="9" text-anchor="end" font-weight="normal" fill="#000" >10</text>
<text x="211.70" y="574.03" font-size="4.6" text-anchor="start" font-weight="normal" fill="#000" style="stroke-width:0.1">6</text>
<line x1="217.40" y1="558.20" x2="221.60" y2="558.20" stroke="#000" stroke-width="1.3" />
<text x="211.30" y="560.80" font-size="9" text-anchor="end" font-weight="normal" fill="#000" >10</text>
<text x="211.70" y="557.00" font-size="4.6" text-anchor="start" font-weight="normal" fill="#000" style="stroke-width:0.1">7</text>
<text id="fyl" transform="translate(193.70,619.35) rotate(-90) scale(0.673,1)" font-size="11" font-weight="bold" style="stroke-width:0.1" text-anchor="middle">IE1 gene copy #/100mg tissue</text>
</svg></body></html>
